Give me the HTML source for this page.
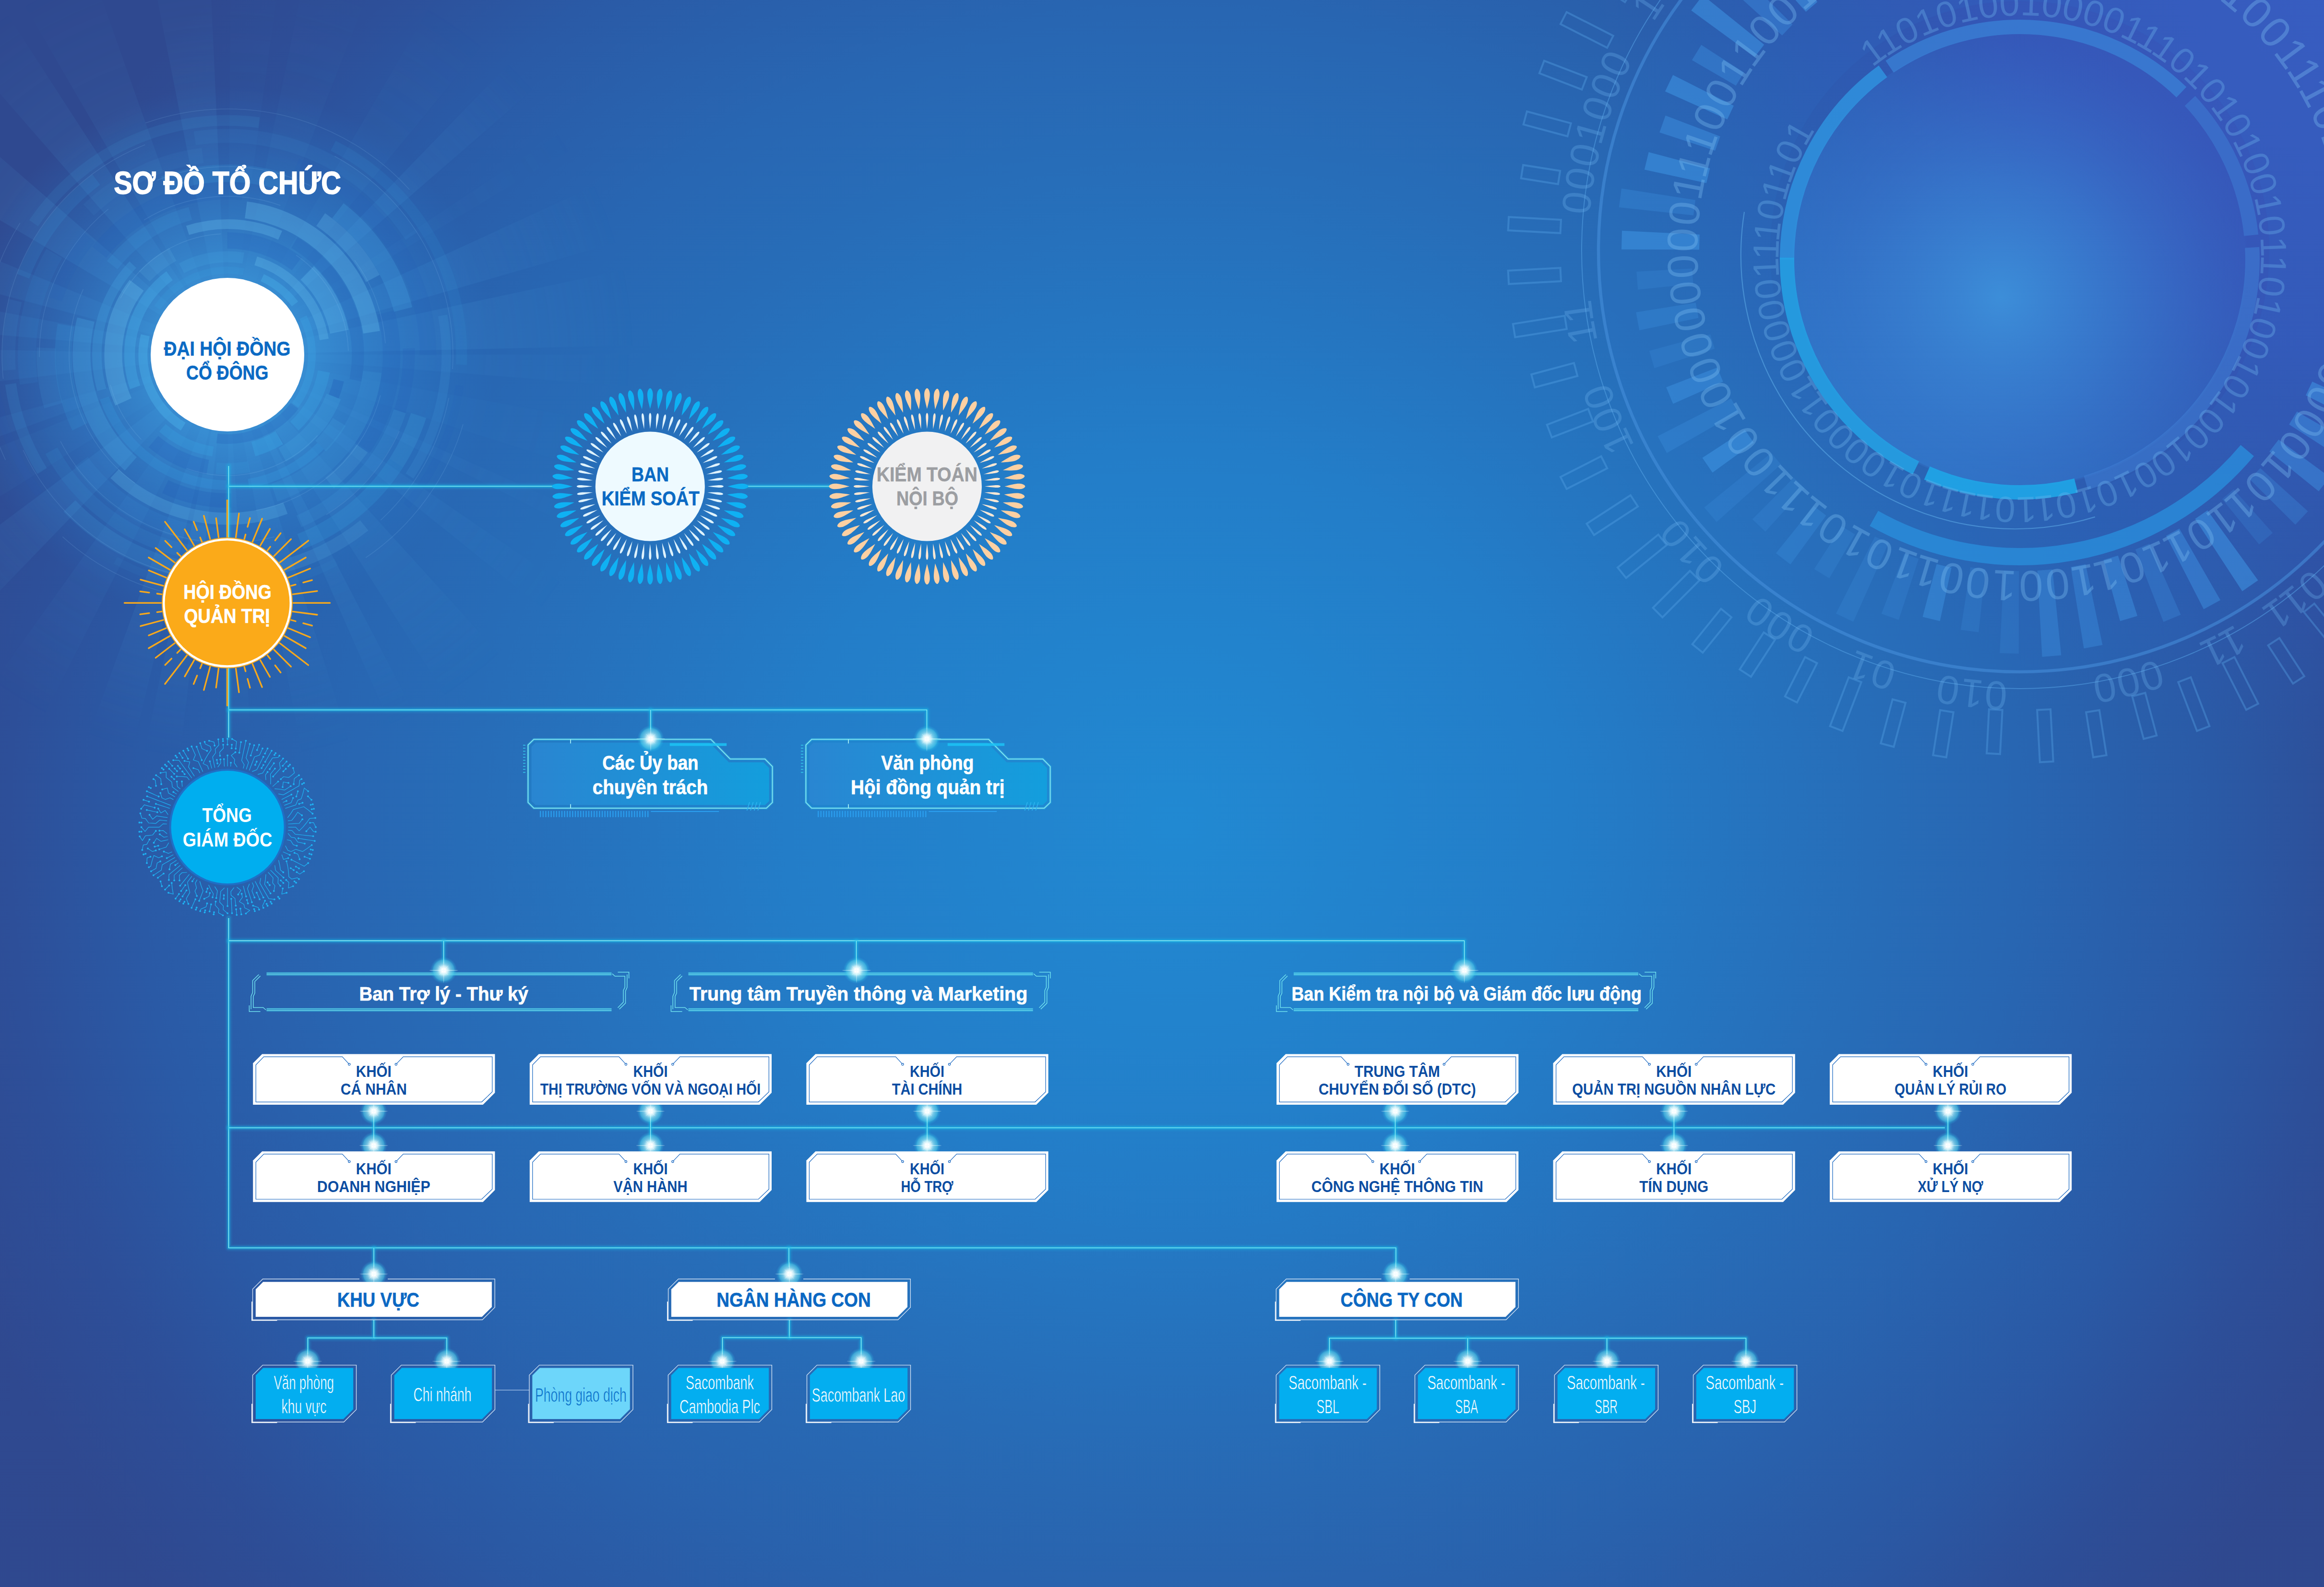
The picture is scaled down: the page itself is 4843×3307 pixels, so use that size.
<!DOCTYPE html>
<html lang="vi"><head><meta charset="utf-8"><title>Sơ đồ tổ chức</title>
<style>html,body{margin:0;padding:0;background:#2b4f9b;overflow:hidden}svg{display:block}</style></head><body>
<svg width="4843" height="3307" viewBox="0 0 4843 3307">
<defs>

<radialGradient id="bg" gradientUnits="userSpaceOnUse" cx="0" cy="0" r="1" gradientTransform="translate(2450 1720) scale(2700 2600)">
 <stop offset="0" stop-color="#2189d2"/><stop offset=".3" stop-color="#237dc8"/><stop offset=".535" stop-color="#276db8"/>
 <stop offset=".65" stop-color="#2866b2"/><stop offset=".8" stop-color="#2a5aa6"/><stop offset=".9" stop-color="#2d4f99"/><stop offset="1" stop-color="#2f4990"/>
</radialGradient>
<linearGradient id="bgb" gradientUnits="userSpaceOnUse" x1="0" y1="2300" x2="0" y2="3307">
 <stop offset="0" stop-color="#2c4694" stop-opacity="0"/><stop offset="1" stop-color="#2e4488" stop-opacity=".14"/>
</linearGradient>
<radialGradient id="trg" gradientUnits="userSpaceOnUse" cx="5000" cy="-100" r="1700">
 <stop offset="0" stop-color="#3a5cc4" stop-opacity=".95"/><stop offset=".5" stop-color="#3659c0" stop-opacity=".78"/>
 <stop offset=".8" stop-color="#3059bc" stop-opacity=".3"/><stop offset="1" stop-color="#2f5cba" stop-opacity="0"/>
</radialGradient>
<radialGradient id="trc" gradientUnits="userSpaceOnUse" cx="4170" cy="620" r="540">
 <stop offset="0" stop-color="#3d90da" stop-opacity=".95"/><stop offset=".45" stop-color="#3a80d2" stop-opacity=".6"/>
 <stop offset="1" stop-color="#3a6cc8" stop-opacity="0"/>
</radialGradient>
<linearGradient id="trd" gradientUnits="userSpaceOnUse" x1="3850" y1="900" x2="4560" y2="180">
 <stop offset="0" stop-color="#2f86d8" stop-opacity=".5"/><stop offset=".55" stop-color="#3278d0" stop-opacity=".25"/><stop offset="1" stop-color="#3a60c4" stop-opacity="0"/>
</linearGradient>
<radialGradient id="tlg" gradientUnits="userSpaceOnUse" cx="474" cy="739" r="560">
 <stop offset="0" stop-color="#4aaae6" stop-opacity=".9"/><stop offset=".3" stop-color="#3a98dc" stop-opacity=".78"/>
 <stop offset=".6" stop-color="#2f86d2" stop-opacity=".5"/><stop offset=".84" stop-color="#2a7ccb" stop-opacity=".22"/>
 <stop offset="1" stop-color="#2a78c8" stop-opacity="0"/>
</radialGradient>
<radialGradient id="rayfade" gradientUnits="userSpaceOnUse" cx="474" cy="739" r="1000">
 <stop offset="0" stop-color="#fff" stop-opacity="1"/><stop offset=".4" stop-color="#fff" stop-opacity=".75"/>
 <stop offset=".85" stop-color="#fff" stop-opacity="0"/>
</radialGradient>
<mask id="raymask" maskUnits="userSpaceOnUse" x="0" y="0" width="1600" height="1800"><rect x="0" y="0" width="1600" height="1800" fill="url(#rayfade)"/></mask>
<radialGradient id="dotg" cx=".5" cy=".5" r=".5">
 <stop offset="0" stop-color="#fff" stop-opacity="1"/><stop offset=".14" stop-color="#fff" stop-opacity="1"/>
 <stop offset=".32" stop-color="#d8f8fc" stop-opacity=".9"/><stop offset=".5" stop-color="#8fe2f3" stop-opacity=".74"/>
 <stop offset=".76" stop-color="#4fd0ec" stop-opacity=".58"/><stop offset=".84" stop-color="#38c6ea" stop-opacity=".3"/>
 <stop offset="1" stop-color="#2bbce8" stop-opacity="0"/>
</radialGradient>
<linearGradient id="spk" x1="0" x2="1" y1="0" y2="0">
 <stop offset="0" stop-color="#fff" stop-opacity="0"/><stop offset=".5" stop-color="#fff" stop-opacity="1"/><stop offset="1" stop-color="#fff" stop-opacity="0"/>
</linearGradient>
<g id="dot">
 <circle r="28" fill="url(#dotg)"/>
 <ellipse rx="30" ry="1.1" fill="#e6fcff" fill-opacity=".45"/>
 <ellipse rx="1.1" ry="26" fill="#e6fcff" fill-opacity=".4"/>
 <ellipse rx="15" ry=".7" fill="#fff" fill-opacity=".35" transform="rotate(45)"/>
 <ellipse rx="15" ry=".7" fill="#fff" fill-opacity=".35" transform="rotate(-45)"/>
</g>
<linearGradient id="boxg" x1="0" x2="1" y1="0" y2="0">
 <stop offset="0" stop-color="#2a86d2"/><stop offset="1" stop-color="#12a0de"/>
</linearGradient>

<path id="tp1" d="M3901.8,140.8 A499,499 0 1 1 4516.2,927.2 A499,499 0 1 1 3901.8,140.8"/>
<path id="tp2" d="M4436.8,-103.8 A666,666 0 1 1 3981.2,1147.8 A666,666 0 1 1 4436.8,-103.8"/>
<path id="tp3" d="M4658.5,1300.6 A899,899 0 1 1 3759.5,-256.6 A899,899 0 1 1 4658.5,1300.6"/>
<path id="pb" d="M0,-161.5 C-3.4,-175 -6.2,-185 -5.8,-193 C-5.4,-200 -2.2,-204.5 0,-204.5 C2.2,-204.5 5.4,-200 5.8,-193 C6.2,-185 3.4,-175 0,-161.5Z" fill="#0fb1f3"/>
<path id="pp" d="M0,-161.5 C-3.4,-175 -6.2,-185 -5.8,-193 C-5.4,-200 -2.2,-204.5 0,-204.5 C2.2,-204.5 5.4,-200 5.8,-193 C6.2,-185 3.4,-175 0,-161.5Z" fill="#fdd0a2"/>
<path id="pw" d="M0,-120 C-1.6,-132 -2.7,-141 -2.5,-146 C-2.3,-151 -1,-153 0,-153 C1,-153 2.3,-151 2.5,-146 C2.7,-141 1.6,-132 0,-120Z"/>
</defs>
<rect width="4843" height="3307" fill="url(#bg)"/>
<rect width="4843" height="3307" fill="url(#bgb)"/>
<rect width="4843" height="3307" fill="url(#trg)"/>
<g mask="url(#raymask)">
<path d="M474,739 L1874,739 L1869.6,849.4 Z" fill="#5cbcf2" fill-opacity="0.094"/>
<path d="M474,739 L1852.3,984.6 L1807.4,1165.5 Z" fill="#5cbcf2" fill-opacity="0.058"/>
<path d="M474,739 L1753.7,1306.9 L1726.4,1364.6 Z" fill="#5cbcf2" fill-opacity="0.081"/>
<path d="M474,739 L1630.2,1528.4 L1564.8,1616.5 Z" fill="#5cbcf2" fill-opacity="0.106"/>
<path d="M474,739 L1414.7,1775.8 L1228.4,1918.3 Z" fill="#5cbcf2" fill-opacity="0.127"/>
<path d="M474,739 L1121.2,1980.4 L1037.9,2020.4 Z" fill="#5cbcf2" fill-opacity="0.154"/>
<path d="M474,739 L894.8,2074.3 L730.2,2115.4 Z" fill="#5cbcf2" fill-opacity="0.131"/>
<path d="M474,739 L559.1,2136.4 L484.8,2139 Z" fill="#5cbcf2" fill-opacity="0.121"/>
<path d="M474,739 L309.6,2129.3 L187.6,2109.4 Z" fill="#5cbcf2" fill-opacity="0.154"/>
<path d="M474,739 L146.3,2100.1 L-6.1,2054.1 Z" fill="#5cbcf2" fill-opacity="0.155"/>
<path d="M474,739 L-160.4,1987 L-339.3,1878.5 Z" fill="#5cbcf2" fill-opacity="0.097"/>
<path d="M474,739 L-497.2,1747.3 L-647.5,1577 Z" fill="#5cbcf2" fill-opacity="0.162"/>
<path d="M474,739 L-714.1,1479.5 L-824.4,1262.6 Z" fill="#5cbcf2" fill-opacity="0.066"/>
<path d="M474,739 L-843.8,1211.6 L-875.8,1110.5 Z" fill="#5cbcf2" fill-opacity="0.102"/>
<path d="M474,739 L-916.6,901 L-925.7,710.1 Z" fill="#5cbcf2" fill-opacity="0.111"/>
<path d="M474,739 L-920.8,618.5 L-901.6,478.6 Z" fill="#5cbcf2" fill-opacity="0.120"/>
<path d="M474,739 L-879.2,380.2 L-821.1,207.4 Z" fill="#5cbcf2" fill-opacity="0.132"/>
<path d="M474,739 L-731.1,26.4 L-582.7,-179.4 Z" fill="#5cbcf2" fill-opacity="0.169"/>
<path d="M474,739 L-446,-316.3 L-286,-436.8 Z" fill="#5cbcf2" fill-opacity="0.153"/>
<path d="M474,739 L-229.2,-471.6 L7.7,-581.1 Z" fill="#5cbcf2" fill-opacity="0.118"/>
<path d="M474,739 L202.8,-634.5 L410.5,-659.6 Z" fill="#5cbcf2" fill-opacity="0.150"/>
<path d="M474,739 L485.8,-661 L665.4,-647.9 Z" fill="#5cbcf2" fill-opacity="0.058"/>
<path d="M474,739 L753,-632.9 L981.5,-565.8 Z" fill="#5cbcf2" fill-opacity="0.061"/>
<path d="M474,739 L1177.7,-471.3 L1364.2,-341.6 Z" fill="#5cbcf2" fill-opacity="0.068"/>
<path d="M474,739 L1447.6,-267.1 L1531.5,-178.4 Z" fill="#5cbcf2" fill-opacity="0.155"/>
<path d="M474,739 L1639.1,-37.3 L1676.5,22.1 Z" fill="#5cbcf2" fill-opacity="0.055"/>
<path d="M474,739 L1746,154.2 L1819.2,351.1 Z" fill="#5cbcf2" fill-opacity="0.156"/>
<path d="M474,739 L1842.9,445.5 L1873.7,708 Z" fill="#5cbcf2" fill-opacity="0.170"/>
</g>
<circle cx="474" cy="739" r="560" fill="url(#tlg)"/>
<path d="M613.9,845.8 A176,176 0 0 1 452.1,913.6" fill="none" stroke="#2460b8" stroke-opacity="0.253" stroke-width="20"/>
<path d="M381.8,888.9 A176,176 0 0 1 302.7,698.6" fill="none" stroke="#4fb6ec" stroke-opacity="0.385" stroke-width="18.9"/>
<path d="M327.7,641.1 A176,176 0 0 1 507.7,566.3" fill="none" stroke="#3aa6e6" stroke-opacity="0.149" stroke-width="14.6"/>
<path d="M546.5,578.6 A176,176 0 0 1 614.7,633.3" fill="none" stroke="#48aee8" stroke-opacity="0.390" stroke-width="16.3"/>
<path d="M631.7,660.9 A176,176 0 0 1 615.2,844.1" fill="none" stroke="#3aa6e6" stroke-opacity="0.301" stroke-width="16"/>
<path d="M581.1,912.6 A204,204 0 0 1 528,935.7" fill="none" stroke="#3aa6e6" stroke-opacity="0.379" stroke-width="31.1"/>
<path d="M443.7,940.7 A204,204 0 0 1 338.5,891.5" fill="none" stroke="#3aa6e6" stroke-opacity="0.262" stroke-width="20.7"/>
<path d="M281.6,806.9 A204,204 0 0 1 353.3,574.6" fill="none" stroke="#48aee8" stroke-opacity="0.381" stroke-width="22.5"/>
<path d="M378.3,558.8 A204,204 0 0 1 507.1,537.7" fill="none" stroke="#4fb6ec" stroke-opacity="0.152" stroke-width="23"/>
<path d="M533,543.7 A204,204 0 0 1 675.5,707.3" fill="none" stroke="#6cc6f2" stroke-opacity="0.278" stroke-width="19"/>
<path d="M675,774 A204,204 0 0 1 613.5,887.8" fill="none" stroke="#3aa6e6" stroke-opacity="0.306" stroke-width="25.2"/>
<path d="M581.8,912.2 A204,204 0 0 1 581.1,912.6" fill="none" stroke="#4fb6ec" stroke-opacity="0.383" stroke-width="32.2"/>
<path d="M695.5,826.1 A238,238 0 0 1 588.2,947.8" fill="none" stroke="#48aee8" stroke-opacity="0.211" stroke-width="32"/>
<path d="M518.9,972.7 A238,238 0 0 1 450.5,975.8" fill="none" stroke="#3aa6e6" stroke-opacity="0.150" stroke-width="23.7"/>
<path d="M432.9,973.4 A238,238 0 0 1 319.6,920.1" fill="none" stroke="#2460b8" stroke-opacity="0.275" stroke-width="31"/>
<path d="M257.3,837.4 A238,238 0 0 1 284.8,594.6" fill="none" stroke="#6cc6f2" stroke-opacity="0.296" stroke-width="37.1"/>
<path d="M300.7,575.9 A238,238 0 0 1 360.1,530" fill="none" stroke="#6cc6f2" stroke-opacity="0.126" stroke-width="30.8"/>
<path d="M473.8,501 A238,238 0 0 1 618.4,549.8" fill="none" stroke="#2460b8" stroke-opacity="0.230" stroke-width="33.9"/>
<path d="M640.4,568.8 A238,238 0 0 1 707.2,691.2" fill="none" stroke="#6cc6f2" stroke-opacity="0.264" stroke-width="39.5"/>
<path d="M705.9,792.5 A238,238 0 0 1 695.5,826.1" fill="none" stroke="#2460b8" stroke-opacity="0.373" stroke-width="22.2"/>
<path d="M668.2,929.4 A272,272 0 0 1 517.9,1007.4" fill="none" stroke="#3aa6e6" stroke-opacity="0.248" stroke-width="18.8"/>
<path d="M471.7,1011 A272,272 0 0 1 217.6,829.7" fill="none" stroke="#3aa6e6" stroke-opacity="0.211" stroke-width="20"/>
<path d="M212,812.1 A272,272 0 0 1 276.9,551.5" fill="none" stroke="#48aee8" stroke-opacity="0.243" stroke-width="19.6"/>
<path d="M390.9,480 A272,272 0 0 1 584,490.2" fill="none" stroke="#6cc6f2" stroke-opacity="0.294" stroke-width="20.1"/>
<path d="M613.6,505.6 A272,272 0 0 1 740.7,792.2" fill="none" stroke="#2460b8" stroke-opacity="0.268" stroke-width="25.3"/>
<path d="M707.1,879.2 A272,272 0 0 1 668.2,929.4" fill="none" stroke="#48aee8" stroke-opacity="0.163" stroke-width="31.5"/>
<path d="M775.9,774.8 A304,304 0 0 1 571.7,1026.9" fill="none" stroke="#48aee8" stroke-opacity="0.125" stroke-width="39.3"/>
<path d="M481.4,1042.9 A304,304 0 0 1 344.4,1014" fill="none" stroke="#2460b8" stroke-opacity="0.305" stroke-width="29.7"/>
<path d="M272.5,966.6 A304,304 0 0 1 178.9,666" fill="none" stroke="#4fb6ec" stroke-opacity="0.237" stroke-width="37.2"/>
<path d="M233.8,552.6 A304,304 0 0 1 396.7,445" fill="none" stroke="#48aee8" stroke-opacity="0.147" stroke-width="27.8"/>
<path d="M512.5,437.5 A304,304 0 0 1 774.4,692.3" fill="none" stroke="#6cc6f2" stroke-opacity="0.293" stroke-width="35.1"/>
<path d="M754.7,934.4 A342,342 0 0 1 686.8,1006.7" fill="none" stroke="#6cc6f2" stroke-opacity="0.125" stroke-width="28.3"/>
<path d="M594.9,1058.9 A342,342 0 0 1 238.7,987.2" fill="none" stroke="#6cc6f2" stroke-opacity="0.231" stroke-width="25.1"/>
<path d="M166.7,889.2 A342,342 0 0 1 137.6,677.6" fill="none" stroke="#3aa6e6" stroke-opacity="0.156" stroke-width="35.2"/>
<path d="M206.9,525.4 A342,342 0 0 1 505.4,398.4" fill="none" stroke="#2460b8" stroke-opacity="0.179" stroke-width="37.1"/>
<path d="M668.3,457.6 A342,342 0 0 1 776.9,580.3" fill="none" stroke="#6cc6f2" stroke-opacity="0.241" stroke-width="32.2"/>
<path d="M804.5,651.2 A342,342 0 0 1 754.7,934.4" fill="none" stroke="#2460b8" stroke-opacity="0.227" stroke-width="36.3"/>
<path d="M833.2,856.8 A378,378 0 0 1 622.9,1086.4" fill="none" stroke="#4fb6ec" stroke-opacity="0.114" stroke-width="26.5"/>
<path d="M452.8,1116.4 A378,378 0 0 1 168.9,962.2" fill="none" stroke="#3aa6e6" stroke-opacity="0.099" stroke-width="34.8"/>
<path d="M111.3,845.3 A378,378 0 0 1 96.3,724.9" fill="none" stroke="#4fb6ec" stroke-opacity="0.106" stroke-width="39.7"/>
<path d="M114.2,623 A378,378 0 0 1 186.2,494" fill="none" stroke="#2460b8" stroke-opacity="0.146" stroke-width="31.6"/>
<path d="M341.9,384.8 A378,378 0 0 1 590.7,379.5" fill="none" stroke="#3aa6e6" stroke-opacity="0.168" stroke-width="36.4"/>
<path d="M704.1,439.1 A378,378 0 0 1 840.1,644.8" fill="none" stroke="#48aee8" stroke-opacity="0.230" stroke-width="39.3"/>
<path d="M851.8,726 A378,378 0 0 1 833.2,856.8" fill="none" stroke="#2460b8" stroke-opacity="0.211" stroke-width="24.6"/>
<path d="M825.7,964.9 A418,418 0 0 1 625.6,1128.5" fill="none" stroke="#3aa6e6" stroke-opacity="0.197" stroke-width="34"/>
<path d="M492.8,1156.6 A418,418 0 0 1 107,939.2" fill="none" stroke="#3aa6e6" stroke-opacity="0.112" stroke-width="28.5"/>
<path d="M60.3,799.1 A418,418 0 0 1 113.1,528" fill="none" stroke="#3aa6e6" stroke-opacity="0.087" stroke-width="38"/>
<path d="M184.6,437.4 A418,418 0 0 1 422.4,324.2" fill="none" stroke="#4fb6ec" stroke-opacity="0.058" stroke-width="32"/>
<path d="M617.2,346.3 A418,418 0 0 1 892,739.7" fill="none" stroke="#2460b8" stroke-opacity="0.157" stroke-width="34.3"/>
<path d="M872.3,865.9 A418,418 0 0 1 825.7,964.9" fill="none" stroke="#48aee8" stroke-opacity="0.199" stroke-width="33.3"/>
<path d="M759.1,1094.9 A456,456 0 0 1 579.1,1182.7" fill="none" stroke="#6cc6f2" stroke-opacity="0.138" stroke-width="27.1"/>
<path d="M428.6,1192.7 A456,456 0 0 1 144.7,1054.4" fill="none" stroke="#48aee8" stroke-opacity="0.168" stroke-width="34.1"/>
<path d="M87.9,981.7 A456,456 0 0 1 22.1,800.1" fill="none" stroke="#48aee8" stroke-opacity="0.129" stroke-width="23.1"/>
<path d="M19.1,771.3 A456,456 0 0 1 32.1,626.3" fill="none" stroke="#48aee8" stroke-opacity="0.096" stroke-width="27.7"/>
<path d="M48.2,575.7 A456,456 0 0 1 200.5,374.2" fill="none" stroke="#3aa6e6" stroke-opacity="0.143" stroke-width="27"/>
<path d="M405.8,288.1 A456,456 0 0 1 857.2,491.9" fill="none" stroke="#48aee8" stroke-opacity="0.083" stroke-width="28.9"/>
<path d="M922.6,657.2 A456,456 0 0 1 853.5,991.8" fill="none" stroke="#4fb6ec" stroke-opacity="0.122" stroke-width="19.5"/>
<path d="M957.8,803.2 A488,488 0 0 1 846.6,1054.1" fill="none" stroke="#2460b8" stroke-opacity="0.086" stroke-width="17"/>
<path d="M700.6,1171.2 A488,488 0 0 1 240.7,1167.6" fill="none" stroke="#4fb6ec" stroke-opacity="0.054" stroke-width="16"/>
<path d="M81.7,1029.3 A488,488 0 0 1 -11,684.7" fill="none" stroke="#2460b8" stroke-opacity="0.097" stroke-width="17.9"/>
<path d="M70.1,465.2 A488,488 0 0 1 540,255.5" fill="none" stroke="#48aee8" stroke-opacity="0.110" stroke-width="22.6"/>
<path d="M694.3,303.6 A488,488 0 0 1 961.5,760" fill="none" stroke="#3aa6e6" stroke-opacity="0.110" stroke-width="23.1"/>
<path d="M661.7,907.2 A252,252 0 0 1 388.8,976.2" fill="none" stroke="#9fdcff" stroke-opacity=".13" stroke-width="1.6"/>
<path d="M294.6,916 A252,252 0 0 1 230,801.9" fill="none" stroke="#9fdcff" stroke-opacity=".13" stroke-width="1.6"/>
<path d="M251.1,621.4 A252,252 0 0 1 460.5,487.4" fill="none" stroke="#9fdcff" stroke-opacity=".13" stroke-width="1.6"/>
<path d="M617.2,531.6 A252,252 0 0 1 725.9,731.3" fill="none" stroke="#9fdcff" stroke-opacity=".13" stroke-width="1.6"/>
<path d="M792.9,823.8 A330,330 0 0 1 533.3,1063.6" fill="none" stroke="#9fdcff" stroke-opacity=".13" stroke-width="1.6"/>
<path d="M281.2,1006.8 A330,330 0 0 1 173.5,602.7" fill="none" stroke="#9fdcff" stroke-opacity=".13" stroke-width="1.6"/>
<path d="M300.3,458.4 A330,330 0 0 1 584.2,427.9" fill="none" stroke="#9fdcff" stroke-opacity=".13" stroke-width="1.6"/>
<path d="M739.1,542.5 A330,330 0 0 1 803.1,715.3" fill="none" stroke="#9fdcff" stroke-opacity=".13" stroke-width="1.6"/>
<path d="M832,898.7 A392,392 0 0 1 679.9,1072.5" fill="none" stroke="#9fdcff" stroke-opacity=".13" stroke-width="1.6"/>
<path d="M572.1,1118.5 A392,392 0 0 1 125.9,919.3" fill="none" stroke="#9fdcff" stroke-opacity=".13" stroke-width="1.6"/>
<path d="M82,744 A392,392 0 0 1 225.9,435.5" fill="none" stroke="#9fdcff" stroke-opacity=".13" stroke-width="1.6"/>
<path d="M328.1,375.2 A392,392 0 0 1 660.5,394.2" fill="none" stroke="#9fdcff" stroke-opacity=".13" stroke-width="1.6"/>
<path d="M935.2,829.5 A470,470 0 0 1 793.2,1084" fill="none" stroke="#9fdcff" stroke-opacity=".13" stroke-width="1.6"/>
<path d="M525.3,1206.2 A470,470 0 0 1 48.2,938" fill="none" stroke="#9fdcff" stroke-opacity=".13" stroke-width="1.6"/>
<path d="M6.7,789.4 A470,470 0 0 1 302.4,301.5" fill="none" stroke="#9fdcff" stroke-opacity=".13" stroke-width="1.6"/>
<path d="M697.3,325.5 A470,470 0 0 1 943,769" fill="none" stroke="#9fdcff" stroke-opacity=".13" stroke-width="1.6"/>
<path d="M965,884.2 A512,512 0 0 1 762.2,1162.2" fill="none" stroke="#9fdcff" stroke-opacity=".13" stroke-width="1.6"/>
<path d="M395.5,1245 A512,512 0 0 1 130.2,1118.4" fill="none" stroke="#9fdcff" stroke-opacity=".13" stroke-width="1.6"/>
<path d="M11.4,958.3 A512,512 0 0 1 41.8,464.6" fill="none" stroke="#9fdcff" stroke-opacity=".13" stroke-width="1.6"/>
<path d="M303.2,256.3 A512,512 0 0 1 853.3,395" fill="none" stroke="#9fdcff" stroke-opacity=".13" stroke-width="1.6"/>
<circle cx="4209" cy="541" r="472" fill="url(#trd)"/>
<circle cx="4209" cy="541" r="475" fill="url(#trc)"/>
<circle cx="4209" cy="522" r="700" fill="none" stroke="#2f80d6" stroke-opacity=".1" stroke-width="360"/>
<path d="M3724,541 A485,485 0 0 1 3923.9,148.6" fill="none" stroke="#2f92de" stroke-opacity=".85" stroke-width="30"/>
<path d="M3992.6,975 A485,485 0 0 1 3724,536.8" fill="none" stroke="#24a0e4" stroke-opacity=".88" stroke-width="30"/>
<path d="M4326.3,1011.6 A485,485 0 0 1 4015.6,985.8" fill="none" stroke="#1fa6e8" stroke-opacity=".9" stroke-width="30"/>
<path d="M4693.3,515.6 A485,485 0 0 1 4346.7,1006" fill="none" stroke="#3f7fd6" stroke-opacity=".55" stroke-width="30"/>
<path d="M4563.7,210.2 A485,485 0 0 1 4691.3,490.3" fill="none" stroke="#3d7ad2" stroke-opacity=".6" stroke-width="30"/>
<path d="M3937.8,138.9 A485,485 0 0 1 4545.9,192.1" fill="none" stroke="#3a84d8" stroke-opacity=".7" stroke-width="30"/>
<text font-size="76" font-family="'Liberation Sans',sans-serif" font-weight="400" fill="#6fb6ee" fill-opacity=".34" letter-spacing="0"><textPath href="#tp1">110101001000011101010100101101001010010010101101111010000110000011101101</textPath></text>
<path d="M4365.9,1077.1 A571,571 0 0 1 3635,441.7" fill="none" stroke="#63b4ee" stroke-opacity=".5" stroke-width="2.2"/>
<path d="M4683.2,938.9 A619,619 0 0 1 3905.1,1080.3" fill="none" stroke="#2a90de" stroke-opacity=".75" stroke-width="36"/>
<polygon points="4885,523.8 5057,524.2 5056,564.2 4884.2,555.6" fill="#3f97e6" fill-opacity="0.36"/>
<polygon points="4873.2,593.6 5014.3,608.8 5009.4,646.6 4869,624.8" fill="#3f97e6" fill-opacity="0.28"/>
<polygon points="4862,662.6 5020.4,696.7 5011.3,734.7 4854.7,693.2" fill="#3f97e6" fill-opacity="0.52"/>
<polygon points="4851.4,732.6 5014.8,786.2 5001.5,823.8 4840.7,762.6" fill="#3f97e6" fill-opacity="0.2"/>
<polygon points="4818.5,795.3 4982.8,868.9 4965.6,905 4805,823.7" fill="#3f97e6" fill-opacity="0.52"/>
<polygon points="4786.6,857.5 4900.8,923.8 4881.1,956 4770.2,884.4" fill="#3f97e6" fill-opacity="0.44"/>
<polygon points="4748.4,916.1 4855,993.9 4832,1023.8 4729.2,941" fill="#3f97e6" fill-opacity="0.44"/>
<polygon points="4710.2,975.6 4809.5,1065.6 4783.3,1093.3 4688.3,998.8" fill="#3f97e6" fill-opacity="0.28"/>
<polygon points="4654.7,1019.6 4736.1,1110.5 4707.8,1134.6 4630.7,1040" fill="#3f97e6" fill-opacity="0.2"/>
<polygon points="4600.2,1063.4 4705.6,1209.3 4672.7,1232 4574.3,1081.3" fill="#3f97e6" fill-opacity="0.52"/>
<polygon points="4541.5,1101.4 4627.1,1250.6 4592.3,1269.4 4513.8,1116.4" fill="#3f97e6" fill-opacity="0.44"/>
<polygon points="4479.1,1133 4544.6,1281.1 4508.5,1296.1 4450,1145" fill="#3f97e6" fill-opacity="0.28"/>
<polygon points="4413.8,1157.8 4454.2,1283.5 4418.1,1294.2 4383.6,1166.8" fill="#3f97e6" fill-opacity="0.44"/>
<polygon points="4346.2,1175.8 4381.5,1344.1 4342.6,1351.3 4315.2,1181.5" fill="#3f97e6" fill-opacity="0.36"/>
<polygon points="4277.1,1186.5 4295.4,1365.6 4255.6,1368.7 4245.7,1189" fill="#3f97e6" fill-opacity="0.36"/>
<polygon points="4207.3,1190 4206.8,1362 4167.2,1361 4175.8,1189.2" fill="#3f97e6" fill-opacity="0.2"/>
<polygon points="4137.4,1186.2 4123.3,1317.4 4085.9,1312.5 4106.2,1182" fill="#3f97e6" fill-opacity="0.2"/>
<polygon points="4066.7,1182.9 4042.7,1294.3 4006.5,1285.6 4035.7,1175.4" fill="#3f97e6" fill-opacity="0.44"/>
<polygon points="3998.4,1164.4 3956.7,1291.7 3920.7,1279 3968.4,1153.7" fill="#3f97e6" fill-opacity="0.2"/>
<polygon points="3935.7,1131.5 3862.1,1295.8 3826,1278.6 3907.3,1118" fill="#3f97e6" fill-opacity="0.2"/>
<polygon points="3865.5,1113.5 3812.2,1205.1 3780.5,1185.7 3838,1096.6" fill="#3f97e6" fill-opacity="0.2"/>
<polygon points="3805.5,1074.3 3731.2,1176.1 3700.9,1152.8 3779.9,1054.7" fill="#3f97e6" fill-opacity="0.28"/>
<polygon points="3760.7,1017.2 3678.9,1107.7 3651.9,1082.1 3737.9,995.6" fill="#3f97e6" fill-opacity="0.2"/>
<polygon points="3711.4,967.7 3577.3,1087.8 3551.4,1057.4 3691,943.7" fill="#3f97e6" fill-opacity="0.2"/>
<polygon points="3654.6,922.6 3568.7,984.7 3547.6,954 3636.3,896" fill="#3f97e6" fill-opacity="0.52"/>
<polygon points="3622.7,858.5 3473.5,944.1 3454.4,909 3607.5,830.5" fill="#3f97e6" fill-opacity="0.28"/>
<polygon points="3590.7,795.3 3486.5,841.4 3472.2,807 3578.5,765.9" fill="#3f97e6" fill-opacity="0.44"/>
<polygon points="3573.2,726.8 3447.5,767.2 3436.8,731.1 3564.2,696.6" fill="#3f97e6" fill-opacity="0.2"/>
<polygon points="3539.6,662.5 3416.3,688.3 3409.3,650.8 3533.7,630.8" fill="#3f97e6" fill-opacity="0.28"/>
<polygon points="3528.6,591.7 3413.2,603.5 3410.2,566 3526,559.6" fill="#3f97e6" fill-opacity="0.2"/>
<polygon points="3541,520.3 3379,519.8 3380,480.7 3541.8,488.8" fill="#3f97e6" fill-opacity="0.52"/>
<polygon points="3528.9,448.7 3373.8,432 3379,392.8 3533.1,416.8" fill="#3f97e6" fill-opacity="0.28"/>
<polygon points="3556,381.4 3426.9,353.6 3435.7,317 3563.3,350.8" fill="#3f97e6" fill-opacity="0.52"/>
<polygon points="3574.2,313.9 3458.3,275.9 3470.7,240.8 3584.7,284.2" fill="#3f97e6" fill-opacity="0.44"/>
<polygon points="3599.5,248.7 3469.9,190.6 3486.3,156.2 3613,220.3" fill="#3f97e6" fill-opacity="0.52"/>
<polygon points="3617.5,178.5 3525.9,125.2 3545.3,93.5 3634.4,151" fill="#3f97e6" fill-opacity="0.36"/>
<polygon points="3656.7,118.5 3524.3,21.8 3548.6,-9.9 3676.3,92.9" fill="#3f97e6" fill-opacity="0.52"/>
<polygon points="3713.8,73.7 3586.2,-41.7 3613.5,-70.4 3735.4,50.9" fill="#3f97e6" fill-opacity="0.36"/>
<polygon points="3763.3,24.4 3648.6,-103.7 3678.7,-129.4 3787.3,4" fill="#3f97e6" fill-opacity="0.52"/>
<polygon points="3817.8,-19.4 3712.4,-165.3 3745.3,-188 3843.7,-37.3" fill="#3f97e6" fill-opacity="0.28"/>
<polygon points="3872.5,-64.3 3805.8,-180.5 3839.4,-198.8 3900.5,-79.5" fill="#3f97e6" fill-opacity="0.52"/>
<polygon points="3938.9,-89 3866.1,-253.6 3903,-268.9 3968,-101" fill="#3f97e6" fill-opacity="0.52"/>
<polygon points="4004.2,-113.8 3966.8,-230 4002.5,-240.5 4034.4,-122.8" fill="#3f97e6" fill-opacity="0.44"/>
<polygon points="4071.8,-131.8 4042.7,-270.7 4080.2,-277.7 4102.8,-137.5" fill="#3f97e6" fill-opacity="0.28"/>
<polygon points="4140.1,-150.5 4124.4,-303.7 4163.4,-306.7 4171.9,-153" fill="#3f97e6" fill-opacity="0.36"/>
<polygon points="4210.7,-146 4211.2,-308 4250.3,-307 4242.2,-145.2" fill="#3f97e6" fill-opacity="0.36"/>
<polygon points="4280.6,-142.2 4299.8,-321.1 4339.5,-315.9 4311.8,-138" fill="#3f97e6" fill-opacity="0.2"/>
<polygon points="4349.6,-131 4387.5,-307 4426.3,-297.7 4380.2,-123.7" fill="#3f97e6" fill-opacity="0.52"/>
<polygon points="4870.6,383.2 5038.9,347.9 5046.2,387.2 4876.4,414.5" fill="#3f97e6" fill-opacity="0.36"/>
<polygon points="4873.5,453.9 5052.6,435.6 5055.7,475.4 4876,485.3" fill="#3f97e6" fill-opacity="0.2"/>
<text font-size="90" font-family="'Liberation Sans',sans-serif" font-weight="400" fill="#79bdf2" fill-opacity=".36" letter-spacing="3"><textPath href="#tp2">0100100111010100010000001011011011001001101011100100000000111001100110100000110</textPath></text>
<circle cx="4209" cy="522" r="878" fill="none" stroke="#4a94e0" stroke-opacity=".5" stroke-width="6.5"/>
<circle cx="4209" cy="522" r="913" fill="none" stroke="#5aa8ea" stroke-opacity=".5" stroke-width="2"/>
<text font-size="84" font-family="'Liberation Sans',sans-serif" font-weight="400" fill="#6db4ee" fill-opacity=".3" letter-spacing="2"><textPath href="#tp3">11 000  010 01 000 010  100 11  0001000 100 000 11 100 11 100 10 10  010  11 11 100 0001000 011 100  11 010  100 110 11 100 000 110  100  0001000  </textPath></text>
<polygon points="5098.4,878.4 5200.1,917.4 5210.1,891.3 5108.4,852.2" fill="none" stroke="#5aa6ea" stroke-opacity=".36" stroke-width="4"/>
<polygon points="5056.2,969.4 5153.3,1018.9 5166.1,993.9 5068.9,944.4" fill="none" stroke="#5aa6ea" stroke-opacity=".36" stroke-width="4"/>
<polygon points="5004.8,1055.5 5096.2,1114.9 5111.5,1091.4 5020.1,1032" fill="none" stroke="#5aa6ea" stroke-opacity=".36" stroke-width="4"/>
<polygon points="4944.7,1135.8 5029.4,1204.4 5047,1182.6 4962.3,1114" fill="none" stroke="#5aa6ea" stroke-opacity=".36" stroke-width="4"/>
<polygon points="4876.5,1209.3 4953.6,1286.4 4973.4,1266.6 4896.3,1189.5" fill="none" stroke="#5aa6ea" stroke-opacity=".36" stroke-width="4"/>
<polygon points="4801,1275.3 4869.6,1360 4891.4,1342.4 4822.8,1257.7" fill="none" stroke="#5aa6ea" stroke-opacity=".36" stroke-width="4"/>
<polygon points="4726.6,1344.8 4778.4,1424.5 4801.9,1409.2 4750.1,1329.6" fill="none" stroke="#5aa6ea" stroke-opacity=".36" stroke-width="4"/>
<polygon points="4631.4,1381.9 4680.9,1479.1 4705.9,1466.3 4656.4,1369.2" fill="none" stroke="#5aa6ea" stroke-opacity=".36" stroke-width="4"/>
<polygon points="4539.2,1421.4 4578.3,1523.1 4604.4,1513.1 4565.4,1411.4" fill="none" stroke="#5aa6ea" stroke-opacity=".36" stroke-width="4"/>
<polygon points="4443.4,1451 4467.2,1539.8 4494.3,1532.6 4470.5,1443.7" fill="none" stroke="#5aa6ea" stroke-opacity=".36" stroke-width="4"/>
<polygon points="4347.2,1484.2 4362.1,1578.1 4389.7,1573.7 4374.9,1479.8" fill="none" stroke="#5aa6ea" stroke-opacity=".36" stroke-width="4"/>
<polygon points="4245.2,1479.4 4250.9,1588.3 4278.8,1586.8 4273.1,1478" fill="none" stroke="#5aa6ea" stroke-opacity=".36" stroke-width="4"/>
<polygon points="4144.9,1478 4140.1,1569.8 4168,1571.3 4172.8,1479.4" fill="none" stroke="#5aa6ea" stroke-opacity=".36" stroke-width="4"/>
<polygon points="4043.1,1479.8 4028.3,1573.7 4055.9,1578.1 4070.8,1484.2" fill="none" stroke="#5aa6ea" stroke-opacity=".36" stroke-width="4"/>
<polygon points="3943.9,1457.3 3919.3,1549 3946.4,1556.3 3971,1464.5" fill="none" stroke="#5aa6ea" stroke-opacity=".36" stroke-width="4"/>
<polygon points="3852.6,1411.4 3813.6,1513.1 3839.7,1523.1 3878.8,1421.4" fill="none" stroke="#5aa6ea" stroke-opacity=".36" stroke-width="4"/>
<polygon points="3761.6,1369.2 3719.8,1451.2 3744.8,1463.9 3786.6,1381.9" fill="none" stroke="#5aa6ea" stroke-opacity=".36" stroke-width="4"/>
<polygon points="3675.5,1317.8 3625.4,1395 3648.9,1410.2 3699,1333.1" fill="none" stroke="#5aa6ea" stroke-opacity=".36" stroke-width="4"/>
<polygon points="3586.4,1268.6 3526.6,1342.4 3548.4,1360 3608.2,1286.2" fill="none" stroke="#5aa6ea" stroke-opacity=".36" stroke-width="4"/>
<polygon points="3521.7,1189.5 3444.6,1266.6 3464.4,1286.4 3541.5,1209.3" fill="none" stroke="#5aa6ea" stroke-opacity=".36" stroke-width="4"/>
<polygon points="3455.7,1114 3371,1182.6 3388.6,1204.4 3473.3,1135.8" fill="none" stroke="#5aa6ea" stroke-opacity=".36" stroke-width="4"/>
<polygon points="3397.9,1032 3306.5,1091.4 3321.8,1114.9 3413.2,1055.5" fill="none" stroke="#5aa6ea" stroke-opacity=".36" stroke-width="4"/>
<polygon points="3336.6,950.8 3251.9,993.9 3264.7,1018.9 3349.3,975.8" fill="none" stroke="#5aa6ea" stroke-opacity=".36" stroke-width="4"/>
<polygon points="3309.6,852.2 3223.7,885.2 3233.8,911.4 3319.6,878.4" fill="none" stroke="#5aa6ea" stroke-opacity=".36" stroke-width="4"/>
<polygon points="3280,756.4 3191.2,780.2 3198.4,807.3 3287.3,783.5" fill="none" stroke="#5aa6ea" stroke-opacity=".36" stroke-width="4"/>
<polygon points="3260.6,658 3152.9,675.1 3157.3,702.7 3265,685.7" fill="none" stroke="#5aa6ea" stroke-opacity=".36" stroke-width="4"/>
<polygon points="3251.6,558.2 3142.7,563.9 3144.2,591.8 3253,586.1" fill="none" stroke="#5aa6ea" stroke-opacity=".36" stroke-width="4"/>
<polygon points="3253,457.9 3144.2,452.2 3142.7,480.1 3251.6,485.8" fill="none" stroke="#5aa6ea" stroke-opacity=".36" stroke-width="4"/>
<polygon points="3251.2,356.1 3174.1,343.9 3169.7,371.6 3246.8,383.8" fill="none" stroke="#5aa6ea" stroke-opacity=".36" stroke-width="4"/>
<polygon points="3273.7,256.9 3182,232.3 3174.7,259.4 3266.5,284" fill="none" stroke="#5aa6ea" stroke-opacity=".36" stroke-width="4"/>
<polygon points="3306.6,160.6 3217.9,126.6 3207.9,152.7 3296.5,186.7" fill="none" stroke="#5aa6ea" stroke-opacity=".36" stroke-width="4"/>
<polygon points="3361.8,74.6 3264.7,25.1 3251.9,50.1 3349.1,99.6" fill="none" stroke="#5aa6ea" stroke-opacity=".36" stroke-width="4"/>
<polygon points="3401.4,-19.1 3336,-61.6 3320.8,-38.1 3386.2,4.4" fill="none" stroke="#5aa6ea" stroke-opacity=".36" stroke-width="4"/>
<polygon points="3473.3,-91.8 3388.6,-160.4 3371,-138.6 3455.7,-70" fill="none" stroke="#5aa6ea" stroke-opacity=".36" stroke-width="4"/>
<polygon points="3531.6,-175.2 3464.4,-242.4 3444.6,-222.6 3511.8,-155.4" fill="none" stroke="#5aa6ea" stroke-opacity=".36" stroke-width="4"/>
<polygon points="3617,-231.3 3548.4,-316 3526.6,-298.4 3595.2,-213.7" fill="none" stroke="#5aa6ea" stroke-opacity=".36" stroke-width="4"/>
<polygon points="3699,-289.1 3639.6,-380.5 3616.1,-365.2 3675.5,-273.8" fill="none" stroke="#5aa6ea" stroke-opacity=".36" stroke-width="4"/>
<polygon points="3786.6,-337.9 3744.8,-419.9 3719.8,-407.2 3761.6,-325.2" fill="none" stroke="#5aa6ea" stroke-opacity=".36" stroke-width="4"/>
<polygon points="3878.8,-377.4 3839.7,-479.1 3813.6,-469.1 3852.6,-367.4" fill="none" stroke="#5aa6ea" stroke-opacity=".36" stroke-width="4"/>
<polygon points="3974.6,-407 3946.4,-512.3 3919.3,-505 3947.5,-399.7" fill="none" stroke="#5aa6ea" stroke-opacity=".36" stroke-width="4"/>
<polygon points="4073,-426.4 4055.9,-534.1 4028.3,-529.7 4045.3,-422" fill="none" stroke="#5aa6ea" stroke-opacity=".36" stroke-width="4"/>
<polygon points="4172.8,-435.4 4167.1,-544.3 4139.2,-542.8 4144.9,-434" fill="none" stroke="#5aa6ea" stroke-opacity=".36" stroke-width="4"/>
<polygon points="4273.1,-434 4278.8,-542.8 4250.9,-544.3 4245.2,-435.4" fill="none" stroke="#5aa6ea" stroke-opacity=".36" stroke-width="4"/>
<polygon points="4372.7,-422 4389.7,-529.7 4362.1,-534.1 4345,-426.4" fill="none" stroke="#5aa6ea" stroke-opacity=".36" stroke-width="4"/>
<polygon points="5157.4,386 5248.3,371.6 5243.9,343.9 5153,358.3" fill="none" stroke="#5aa6ea" stroke-opacity=".36" stroke-width="4"/>
<polygon points="5166.4,485.8 5258.3,481 5256.8,453.1 5165,457.9" fill="none" stroke="#5aa6ea" stroke-opacity=".36" stroke-width="4"/>
<path d="M476.5,971 L476.5,1125" fill="none" stroke="#17c0ea" stroke-opacity=".07" stroke-width="16" stroke-linecap="round" stroke-linejoin="round"/>
<path d="M476.5,971 L476.5,1125" fill="none" stroke="#17c0ea" stroke-opacity=".2" stroke-width="10" stroke-linecap="round" stroke-linejoin="round"/>
<path d="M476.5,971 L476.5,1125" fill="none" stroke="#17c0ea" stroke-opacity=".36" stroke-width="5.5" stroke-linejoin="round"/>
<path d="M476.5,971 L476.5,1125" fill="none" stroke="#17c0ea" stroke-opacity=".62" stroke-width="2.8" stroke-linejoin="round"/>
<path d="M476.5,971 L476.5,1125" fill="none" stroke="#aeeef2" stroke-width="1.1" stroke-linejoin="round"/>
<path d="M476.5,1013.3 L1154,1013.3" fill="none" stroke="#17c0ea" stroke-opacity=".07" stroke-width="16" stroke-linecap="round" stroke-linejoin="round"/>
<path d="M476.5,1013.3 L1154,1013.3" fill="none" stroke="#17c0ea" stroke-opacity=".2" stroke-width="10" stroke-linecap="round" stroke-linejoin="round"/>
<path d="M476.5,1013.3 L1154,1013.3" fill="none" stroke="#17c0ea" stroke-opacity=".36" stroke-width="5.5" stroke-linejoin="round"/>
<path d="M476.5,1013.3 L1154,1013.3" fill="none" stroke="#17c0ea" stroke-opacity=".62" stroke-width="2.8" stroke-linejoin="round"/>
<path d="M476.5,1013.3 L1154,1013.3" fill="none" stroke="#aeeef2" stroke-width="1.1" stroke-linejoin="round"/>
<path d="M1556,1013.3 L1730,1013.3" fill="none" stroke="#17c0ea" stroke-opacity=".07" stroke-width="16" stroke-linecap="round" stroke-linejoin="round"/>
<path d="M1556,1013.3 L1730,1013.3" fill="none" stroke="#17c0ea" stroke-opacity=".2" stroke-width="10" stroke-linecap="round" stroke-linejoin="round"/>
<path d="M1556,1013.3 L1730,1013.3" fill="none" stroke="#17c0ea" stroke-opacity=".36" stroke-width="5.5" stroke-linejoin="round"/>
<path d="M1556,1013.3 L1730,1013.3" fill="none" stroke="#17c0ea" stroke-opacity=".62" stroke-width="2.8" stroke-linejoin="round"/>
<path d="M1556,1013.3 L1730,1013.3" fill="none" stroke="#aeeef2" stroke-width="1.1" stroke-linejoin="round"/>
<path d="M476.5,1385 L476.5,1537" fill="none" stroke="#17c0ea" stroke-opacity=".07" stroke-width="16" stroke-linecap="round" stroke-linejoin="round"/>
<path d="M476.5,1385 L476.5,1537" fill="none" stroke="#17c0ea" stroke-opacity=".2" stroke-width="10" stroke-linecap="round" stroke-linejoin="round"/>
<path d="M476.5,1385 L476.5,1537" fill="none" stroke="#17c0ea" stroke-opacity=".36" stroke-width="5.5" stroke-linejoin="round"/>
<path d="M476.5,1385 L476.5,1537" fill="none" stroke="#17c0ea" stroke-opacity=".62" stroke-width="2.8" stroke-linejoin="round"/>
<path d="M476.5,1385 L476.5,1537" fill="none" stroke="#aeeef2" stroke-width="1.1" stroke-linejoin="round"/>
<path d="M476.5,1479.3 L1931.5,1479.3 L1931.5,1520" fill="none" stroke="#17c0ea" stroke-opacity=".07" stroke-width="16" stroke-linecap="round" stroke-linejoin="round"/>
<path d="M476.5,1479.3 L1931.5,1479.3 L1931.5,1520" fill="none" stroke="#17c0ea" stroke-opacity=".2" stroke-width="10" stroke-linecap="round" stroke-linejoin="round"/>
<path d="M476.5,1479.3 L1931.5,1479.3 L1931.5,1520" fill="none" stroke="#17c0ea" stroke-opacity=".36" stroke-width="5.5" stroke-linejoin="round"/>
<path d="M476.5,1479.3 L1931.5,1479.3 L1931.5,1520" fill="none" stroke="#17c0ea" stroke-opacity=".62" stroke-width="2.8" stroke-linejoin="round"/>
<path d="M476.5,1479.3 L1931.5,1479.3 L1931.5,1520" fill="none" stroke="#aeeef2" stroke-width="1.1" stroke-linejoin="round"/>
<path d="M1355.8,1479.3 L1355.8,1520" fill="none" stroke="#17c0ea" stroke-opacity=".07" stroke-width="16" stroke-linecap="round" stroke-linejoin="round"/>
<path d="M1355.8,1479.3 L1355.8,1520" fill="none" stroke="#17c0ea" stroke-opacity=".2" stroke-width="10" stroke-linecap="round" stroke-linejoin="round"/>
<path d="M1355.8,1479.3 L1355.8,1520" fill="none" stroke="#17c0ea" stroke-opacity=".36" stroke-width="5.5" stroke-linejoin="round"/>
<path d="M1355.8,1479.3 L1355.8,1520" fill="none" stroke="#17c0ea" stroke-opacity=".62" stroke-width="2.8" stroke-linejoin="round"/>
<path d="M1355.8,1479.3 L1355.8,1520" fill="none" stroke="#aeeef2" stroke-width="1.1" stroke-linejoin="round"/>
<path d="M476.5,1913 L476.5,2600.2 L2909,2600.2 L2909,2640" fill="none" stroke="#17c0ea" stroke-opacity=".07" stroke-width="16" stroke-linecap="round" stroke-linejoin="round"/>
<path d="M476.5,1913 L476.5,2600.2 L2909,2600.2 L2909,2640" fill="none" stroke="#17c0ea" stroke-opacity=".2" stroke-width="10" stroke-linecap="round" stroke-linejoin="round"/>
<path d="M476.5,1913 L476.5,2600.2 L2909,2600.2 L2909,2640" fill="none" stroke="#17c0ea" stroke-opacity=".36" stroke-width="5.5" stroke-linejoin="round"/>
<path d="M476.5,1913 L476.5,2600.2 L2909,2600.2 L2909,2640" fill="none" stroke="#17c0ea" stroke-opacity=".62" stroke-width="2.8" stroke-linejoin="round"/>
<path d="M476.5,1913 L476.5,2600.2 L2909,2600.2 L2909,2640" fill="none" stroke="#aeeef2" stroke-width="1.1" stroke-linejoin="round"/>
<path d="M476.5,1960.4 L3051.6,1960.4 L3051.6,2008" fill="none" stroke="#17c0ea" stroke-opacity=".07" stroke-width="16" stroke-linecap="round" stroke-linejoin="round"/>
<path d="M476.5,1960.4 L3051.6,1960.4 L3051.6,2008" fill="none" stroke="#17c0ea" stroke-opacity=".2" stroke-width="10" stroke-linecap="round" stroke-linejoin="round"/>
<path d="M476.5,1960.4 L3051.6,1960.4 L3051.6,2008" fill="none" stroke="#17c0ea" stroke-opacity=".36" stroke-width="5.5" stroke-linejoin="round"/>
<path d="M476.5,1960.4 L3051.6,1960.4 L3051.6,2008" fill="none" stroke="#17c0ea" stroke-opacity=".62" stroke-width="2.8" stroke-linejoin="round"/>
<path d="M476.5,1960.4 L3051.6,1960.4 L3051.6,2008" fill="none" stroke="#aeeef2" stroke-width="1.1" stroke-linejoin="round"/>
<path d="M924.6,1960.4 L924.6,2008" fill="none" stroke="#17c0ea" stroke-opacity=".07" stroke-width="16" stroke-linecap="round" stroke-linejoin="round"/>
<path d="M924.6,1960.4 L924.6,2008" fill="none" stroke="#17c0ea" stroke-opacity=".2" stroke-width="10" stroke-linecap="round" stroke-linejoin="round"/>
<path d="M924.6,1960.4 L924.6,2008" fill="none" stroke="#17c0ea" stroke-opacity=".36" stroke-width="5.5" stroke-linejoin="round"/>
<path d="M924.6,1960.4 L924.6,2008" fill="none" stroke="#17c0ea" stroke-opacity=".62" stroke-width="2.8" stroke-linejoin="round"/>
<path d="M924.6,1960.4 L924.6,2008" fill="none" stroke="#aeeef2" stroke-width="1.1" stroke-linejoin="round"/>
<path d="M1784.5,1960.4 L1784.5,2008" fill="none" stroke="#17c0ea" stroke-opacity=".07" stroke-width="16" stroke-linecap="round" stroke-linejoin="round"/>
<path d="M1784.5,1960.4 L1784.5,2008" fill="none" stroke="#17c0ea" stroke-opacity=".2" stroke-width="10" stroke-linecap="round" stroke-linejoin="round"/>
<path d="M1784.5,1960.4 L1784.5,2008" fill="none" stroke="#17c0ea" stroke-opacity=".36" stroke-width="5.5" stroke-linejoin="round"/>
<path d="M1784.5,1960.4 L1784.5,2008" fill="none" stroke="#17c0ea" stroke-opacity=".62" stroke-width="2.8" stroke-linejoin="round"/>
<path d="M1784.5,1960.4 L1784.5,2008" fill="none" stroke="#aeeef2" stroke-width="1.1" stroke-linejoin="round"/>
<path d="M476.5,2350 L4053,2350" fill="none" stroke="#17c0ea" stroke-opacity=".07" stroke-width="16" stroke-linecap="round" stroke-linejoin="round"/>
<path d="M476.5,2350 L4053,2350" fill="none" stroke="#17c0ea" stroke-opacity=".2" stroke-width="10" stroke-linecap="round" stroke-linejoin="round"/>
<path d="M476.5,2350 L4053,2350" fill="none" stroke="#17c0ea" stroke-opacity=".36" stroke-width="5.5" stroke-linejoin="round"/>
<path d="M476.5,2350 L4053,2350" fill="none" stroke="#17c0ea" stroke-opacity=".62" stroke-width="2.8" stroke-linejoin="round"/>
<path d="M476.5,2350 L4053,2350" fill="none" stroke="#aeeef2" stroke-width="1.1" stroke-linejoin="round"/>
<path d="M778.8,2310 L778.8,2392" fill="none" stroke="#17c0ea" stroke-opacity=".07" stroke-width="16" stroke-linecap="round" stroke-linejoin="round"/>
<path d="M778.8,2310 L778.8,2392" fill="none" stroke="#17c0ea" stroke-opacity=".2" stroke-width="10" stroke-linecap="round" stroke-linejoin="round"/>
<path d="M778.8,2310 L778.8,2392" fill="none" stroke="#17c0ea" stroke-opacity=".36" stroke-width="5.5" stroke-linejoin="round"/>
<path d="M778.8,2310 L778.8,2392" fill="none" stroke="#17c0ea" stroke-opacity=".62" stroke-width="2.8" stroke-linejoin="round"/>
<path d="M778.8,2310 L778.8,2392" fill="none" stroke="#aeeef2" stroke-width="1.1" stroke-linejoin="round"/>
<path d="M1355.6,2310 L1355.6,2392" fill="none" stroke="#17c0ea" stroke-opacity=".07" stroke-width="16" stroke-linecap="round" stroke-linejoin="round"/>
<path d="M1355.6,2310 L1355.6,2392" fill="none" stroke="#17c0ea" stroke-opacity=".2" stroke-width="10" stroke-linecap="round" stroke-linejoin="round"/>
<path d="M1355.6,2310 L1355.6,2392" fill="none" stroke="#17c0ea" stroke-opacity=".36" stroke-width="5.5" stroke-linejoin="round"/>
<path d="M1355.6,2310 L1355.6,2392" fill="none" stroke="#17c0ea" stroke-opacity=".62" stroke-width="2.8" stroke-linejoin="round"/>
<path d="M1355.6,2310 L1355.6,2392" fill="none" stroke="#aeeef2" stroke-width="1.1" stroke-linejoin="round"/>
<path d="M1932.1,2310 L1932.1,2392" fill="none" stroke="#17c0ea" stroke-opacity=".07" stroke-width="16" stroke-linecap="round" stroke-linejoin="round"/>
<path d="M1932.1,2310 L1932.1,2392" fill="none" stroke="#17c0ea" stroke-opacity=".2" stroke-width="10" stroke-linecap="round" stroke-linejoin="round"/>
<path d="M1932.1,2310 L1932.1,2392" fill="none" stroke="#17c0ea" stroke-opacity=".36" stroke-width="5.5" stroke-linejoin="round"/>
<path d="M1932.1,2310 L1932.1,2392" fill="none" stroke="#17c0ea" stroke-opacity=".62" stroke-width="2.8" stroke-linejoin="round"/>
<path d="M1932.1,2310 L1932.1,2392" fill="none" stroke="#aeeef2" stroke-width="1.1" stroke-linejoin="round"/>
<path d="M2907.5,2310 L2907.5,2392" fill="none" stroke="#17c0ea" stroke-opacity=".07" stroke-width="16" stroke-linecap="round" stroke-linejoin="round"/>
<path d="M2907.5,2310 L2907.5,2392" fill="none" stroke="#17c0ea" stroke-opacity=".2" stroke-width="10" stroke-linecap="round" stroke-linejoin="round"/>
<path d="M2907.5,2310 L2907.5,2392" fill="none" stroke="#17c0ea" stroke-opacity=".36" stroke-width="5.5" stroke-linejoin="round"/>
<path d="M2907.5,2310 L2907.5,2392" fill="none" stroke="#17c0ea" stroke-opacity=".62" stroke-width="2.8" stroke-linejoin="round"/>
<path d="M2907.5,2310 L2907.5,2392" fill="none" stroke="#aeeef2" stroke-width="1.1" stroke-linejoin="round"/>
<path d="M3488.4,2310 L3488.4,2392" fill="none" stroke="#17c0ea" stroke-opacity=".07" stroke-width="16" stroke-linecap="round" stroke-linejoin="round"/>
<path d="M3488.4,2310 L3488.4,2392" fill="none" stroke="#17c0ea" stroke-opacity=".2" stroke-width="10" stroke-linecap="round" stroke-linejoin="round"/>
<path d="M3488.4,2310 L3488.4,2392" fill="none" stroke="#17c0ea" stroke-opacity=".36" stroke-width="5.5" stroke-linejoin="round"/>
<path d="M3488.4,2310 L3488.4,2392" fill="none" stroke="#17c0ea" stroke-opacity=".62" stroke-width="2.8" stroke-linejoin="round"/>
<path d="M3488.4,2310 L3488.4,2392" fill="none" stroke="#aeeef2" stroke-width="1.1" stroke-linejoin="round"/>
<path d="M4059.2,2310 L4059.2,2392" fill="none" stroke="#17c0ea" stroke-opacity=".07" stroke-width="16" stroke-linecap="round" stroke-linejoin="round"/>
<path d="M4059.2,2310 L4059.2,2392" fill="none" stroke="#17c0ea" stroke-opacity=".2" stroke-width="10" stroke-linecap="round" stroke-linejoin="round"/>
<path d="M4059.2,2310 L4059.2,2392" fill="none" stroke="#17c0ea" stroke-opacity=".36" stroke-width="5.5" stroke-linejoin="round"/>
<path d="M4059.2,2310 L4059.2,2392" fill="none" stroke="#17c0ea" stroke-opacity=".62" stroke-width="2.8" stroke-linejoin="round"/>
<path d="M4059.2,2310 L4059.2,2392" fill="none" stroke="#aeeef2" stroke-width="1.1" stroke-linejoin="round"/>
<path d="M779,2600.2 L779,2640" fill="none" stroke="#17c0ea" stroke-opacity=".07" stroke-width="16" stroke-linecap="round" stroke-linejoin="round"/>
<path d="M779,2600.2 L779,2640" fill="none" stroke="#17c0ea" stroke-opacity=".2" stroke-width="10" stroke-linecap="round" stroke-linejoin="round"/>
<path d="M779,2600.2 L779,2640" fill="none" stroke="#17c0ea" stroke-opacity=".36" stroke-width="5.5" stroke-linejoin="round"/>
<path d="M779,2600.2 L779,2640" fill="none" stroke="#17c0ea" stroke-opacity=".62" stroke-width="2.8" stroke-linejoin="round"/>
<path d="M779,2600.2 L779,2640" fill="none" stroke="#aeeef2" stroke-width="1.1" stroke-linejoin="round"/>
<path d="M1644,2600.2 L1644,2640" fill="none" stroke="#17c0ea" stroke-opacity=".07" stroke-width="16" stroke-linecap="round" stroke-linejoin="round"/>
<path d="M1644,2600.2 L1644,2640" fill="none" stroke="#17c0ea" stroke-opacity=".2" stroke-width="10" stroke-linecap="round" stroke-linejoin="round"/>
<path d="M1644,2600.2 L1644,2640" fill="none" stroke="#17c0ea" stroke-opacity=".36" stroke-width="5.5" stroke-linejoin="round"/>
<path d="M1644,2600.2 L1644,2640" fill="none" stroke="#17c0ea" stroke-opacity=".62" stroke-width="2.8" stroke-linejoin="round"/>
<path d="M1644,2600.2 L1644,2640" fill="none" stroke="#aeeef2" stroke-width="1.1" stroke-linejoin="round"/>
<text x="237.2" y="404.2" font-size="67.5" font-family="'Liberation Sans',sans-serif" font-weight="700" fill="#ffffff" textLength="473.5" lengthAdjust="spacingAndGlyphs" stroke="#ffffff" stroke-width="1.6">SƠ ĐỒ TỔ CHỨC</text>
<circle cx="474" cy="739" r="160" fill="#ffffff"/>
<text x="341.4" y="741.4" font-size="42.6" font-family="'Liberation Sans',sans-serif" font-weight="700" fill="#0a6ac4" textLength="264" lengthAdjust="spacingAndGlyphs" stroke="#0a6ac4" stroke-width="0.6">ĐẠI HỘI ĐỒNG</text>
<text x="388" y="791.4" font-size="42.6" font-family="'Liberation Sans',sans-serif" font-weight="700" fill="#0a6ac4" textLength="171.4" lengthAdjust="spacingAndGlyphs" stroke="#0a6ac4" stroke-width="0.6">CỔ ĐÔNG</text>
<g transform="translate(1354.8 1013.5)">
<use href="#pb" transform="rotate(0)"/>
<use href="#pb" transform="rotate(6)"/>
<use href="#pb" transform="rotate(12)"/>
<use href="#pb" transform="rotate(18)"/>
<use href="#pb" transform="rotate(24)"/>
<use href="#pb" transform="rotate(30)"/>
<use href="#pb" transform="rotate(36)"/>
<use href="#pb" transform="rotate(42)"/>
<use href="#pb" transform="rotate(48)"/>
<use href="#pb" transform="rotate(54)"/>
<use href="#pb" transform="rotate(60)"/>
<use href="#pb" transform="rotate(66)"/>
<use href="#pb" transform="rotate(72)"/>
<use href="#pb" transform="rotate(78)"/>
<use href="#pb" transform="rotate(84)"/>
<use href="#pb" transform="rotate(90)"/>
<use href="#pb" transform="rotate(96)"/>
<use href="#pb" transform="rotate(102)"/>
<use href="#pb" transform="rotate(108)"/>
<use href="#pb" transform="rotate(114)"/>
<use href="#pb" transform="rotate(120)"/>
<use href="#pb" transform="rotate(126)"/>
<use href="#pb" transform="rotate(132)"/>
<use href="#pb" transform="rotate(138)"/>
<use href="#pb" transform="rotate(144)"/>
<use href="#pb" transform="rotate(150)"/>
<use href="#pb" transform="rotate(156)"/>
<use href="#pb" transform="rotate(162)"/>
<use href="#pb" transform="rotate(168)"/>
<use href="#pb" transform="rotate(174)"/>
<use href="#pb" transform="rotate(180)"/>
<use href="#pb" transform="rotate(186)"/>
<use href="#pb" transform="rotate(192)"/>
<use href="#pb" transform="rotate(198)"/>
<use href="#pb" transform="rotate(204)"/>
<use href="#pb" transform="rotate(210)"/>
<use href="#pb" transform="rotate(216)"/>
<use href="#pb" transform="rotate(222)"/>
<use href="#pb" transform="rotate(228)"/>
<use href="#pb" transform="rotate(234)"/>
<use href="#pb" transform="rotate(240)"/>
<use href="#pb" transform="rotate(246)"/>
<use href="#pb" transform="rotate(252)"/>
<use href="#pb" transform="rotate(258)"/>
<use href="#pb" transform="rotate(264)"/>
<use href="#pb" transform="rotate(270)"/>
<use href="#pb" transform="rotate(276)"/>
<use href="#pb" transform="rotate(282)"/>
<use href="#pb" transform="rotate(288)"/>
<use href="#pb" transform="rotate(294)"/>
<use href="#pb" transform="rotate(300)"/>
<use href="#pb" transform="rotate(306)"/>
<use href="#pb" transform="rotate(312)"/>
<use href="#pb" transform="rotate(318)"/>
<use href="#pb" transform="rotate(324)"/>
<use href="#pb" transform="rotate(330)"/>
<use href="#pb" transform="rotate(336)"/>
<use href="#pb" transform="rotate(342)"/>
<use href="#pb" transform="rotate(348)"/>
<use href="#pb" transform="rotate(354)"/>
<g fill="#dff3fd">
<use href="#pw" transform="rotate(0)"/>
<use href="#pw" transform="rotate(6)"/>
<use href="#pw" transform="rotate(12)"/>
<use href="#pw" transform="rotate(18)"/>
<use href="#pw" transform="rotate(24)"/>
<use href="#pw" transform="rotate(30)"/>
<use href="#pw" transform="rotate(36)"/>
<use href="#pw" transform="rotate(42)"/>
<use href="#pw" transform="rotate(48)"/>
<use href="#pw" transform="rotate(54)"/>
<use href="#pw" transform="rotate(60)"/>
<use href="#pw" transform="rotate(66)"/>
<use href="#pw" transform="rotate(72)"/>
<use href="#pw" transform="rotate(78)"/>
<use href="#pw" transform="rotate(84)"/>
<use href="#pw" transform="rotate(90)"/>
<use href="#pw" transform="rotate(96)"/>
<use href="#pw" transform="rotate(102)"/>
<use href="#pw" transform="rotate(108)"/>
<use href="#pw" transform="rotate(114)"/>
<use href="#pw" transform="rotate(120)"/>
<use href="#pw" transform="rotate(126)"/>
<use href="#pw" transform="rotate(132)"/>
<use href="#pw" transform="rotate(138)"/>
<use href="#pw" transform="rotate(144)"/>
<use href="#pw" transform="rotate(150)"/>
<use href="#pw" transform="rotate(156)"/>
<use href="#pw" transform="rotate(162)"/>
<use href="#pw" transform="rotate(168)"/>
<use href="#pw" transform="rotate(174)"/>
<use href="#pw" transform="rotate(180)"/>
<use href="#pw" transform="rotate(186)"/>
<use href="#pw" transform="rotate(192)"/>
<use href="#pw" transform="rotate(198)"/>
<use href="#pw" transform="rotate(204)"/>
<use href="#pw" transform="rotate(210)"/>
<use href="#pw" transform="rotate(216)"/>
<use href="#pw" transform="rotate(222)"/>
<use href="#pw" transform="rotate(228)"/>
<use href="#pw" transform="rotate(234)"/>
<use href="#pw" transform="rotate(240)"/>
<use href="#pw" transform="rotate(246)"/>
<use href="#pw" transform="rotate(252)"/>
<use href="#pw" transform="rotate(258)"/>
<use href="#pw" transform="rotate(264)"/>
<use href="#pw" transform="rotate(270)"/>
<use href="#pw" transform="rotate(276)"/>
<use href="#pw" transform="rotate(282)"/>
<use href="#pw" transform="rotate(288)"/>
<use href="#pw" transform="rotate(294)"/>
<use href="#pw" transform="rotate(300)"/>
<use href="#pw" transform="rotate(306)"/>
<use href="#pw" transform="rotate(312)"/>
<use href="#pw" transform="rotate(318)"/>
<use href="#pw" transform="rotate(324)"/>
<use href="#pw" transform="rotate(330)"/>
<use href="#pw" transform="rotate(336)"/>
<use href="#pw" transform="rotate(342)"/>
<use href="#pw" transform="rotate(348)"/>
<use href="#pw" transform="rotate(354)"/>
</g>
<circle r="114" fill="#eefaff"/>
</g>
<text x="1315.9" y="1002.6" font-size="42.4" font-family="'Liberation Sans',sans-serif" font-weight="700" fill="#0a6ac4" textLength="78.2" lengthAdjust="spacingAndGlyphs" stroke="#0a6ac4" stroke-width="0.6">BAN</text>
<text x="1253.7" y="1052.5" font-size="42.4" font-family="'Liberation Sans',sans-serif" font-weight="700" fill="#0a6ac4" textLength="204" lengthAdjust="spacingAndGlyphs" stroke="#0a6ac4" stroke-width="0.6">KIỂM SOÁT</text>
<g transform="translate(1931.9 1013.5)">
<use href="#pp" transform="rotate(0)"/>
<use href="#pp" transform="rotate(6)"/>
<use href="#pp" transform="rotate(12)"/>
<use href="#pp" transform="rotate(18)"/>
<use href="#pp" transform="rotate(24)"/>
<use href="#pp" transform="rotate(30)"/>
<use href="#pp" transform="rotate(36)"/>
<use href="#pp" transform="rotate(42)"/>
<use href="#pp" transform="rotate(48)"/>
<use href="#pp" transform="rotate(54)"/>
<use href="#pp" transform="rotate(60)"/>
<use href="#pp" transform="rotate(66)"/>
<use href="#pp" transform="rotate(72)"/>
<use href="#pp" transform="rotate(78)"/>
<use href="#pp" transform="rotate(84)"/>
<use href="#pp" transform="rotate(90)"/>
<use href="#pp" transform="rotate(96)"/>
<use href="#pp" transform="rotate(102)"/>
<use href="#pp" transform="rotate(108)"/>
<use href="#pp" transform="rotate(114)"/>
<use href="#pp" transform="rotate(120)"/>
<use href="#pp" transform="rotate(126)"/>
<use href="#pp" transform="rotate(132)"/>
<use href="#pp" transform="rotate(138)"/>
<use href="#pp" transform="rotate(144)"/>
<use href="#pp" transform="rotate(150)"/>
<use href="#pp" transform="rotate(156)"/>
<use href="#pp" transform="rotate(162)"/>
<use href="#pp" transform="rotate(168)"/>
<use href="#pp" transform="rotate(174)"/>
<use href="#pp" transform="rotate(180)"/>
<use href="#pp" transform="rotate(186)"/>
<use href="#pp" transform="rotate(192)"/>
<use href="#pp" transform="rotate(198)"/>
<use href="#pp" transform="rotate(204)"/>
<use href="#pp" transform="rotate(210)"/>
<use href="#pp" transform="rotate(216)"/>
<use href="#pp" transform="rotate(222)"/>
<use href="#pp" transform="rotate(228)"/>
<use href="#pp" transform="rotate(234)"/>
<use href="#pp" transform="rotate(240)"/>
<use href="#pp" transform="rotate(246)"/>
<use href="#pp" transform="rotate(252)"/>
<use href="#pp" transform="rotate(258)"/>
<use href="#pp" transform="rotate(264)"/>
<use href="#pp" transform="rotate(270)"/>
<use href="#pp" transform="rotate(276)"/>
<use href="#pp" transform="rotate(282)"/>
<use href="#pp" transform="rotate(288)"/>
<use href="#pp" transform="rotate(294)"/>
<use href="#pp" transform="rotate(300)"/>
<use href="#pp" transform="rotate(306)"/>
<use href="#pp" transform="rotate(312)"/>
<use href="#pp" transform="rotate(318)"/>
<use href="#pp" transform="rotate(324)"/>
<use href="#pp" transform="rotate(330)"/>
<use href="#pp" transform="rotate(336)"/>
<use href="#pp" transform="rotate(342)"/>
<use href="#pp" transform="rotate(348)"/>
<use href="#pp" transform="rotate(354)"/>
<g fill="#fde8d4">
<use href="#pw" transform="rotate(0)"/>
<use href="#pw" transform="rotate(6)"/>
<use href="#pw" transform="rotate(12)"/>
<use href="#pw" transform="rotate(18)"/>
<use href="#pw" transform="rotate(24)"/>
<use href="#pw" transform="rotate(30)"/>
<use href="#pw" transform="rotate(36)"/>
<use href="#pw" transform="rotate(42)"/>
<use href="#pw" transform="rotate(48)"/>
<use href="#pw" transform="rotate(54)"/>
<use href="#pw" transform="rotate(60)"/>
<use href="#pw" transform="rotate(66)"/>
<use href="#pw" transform="rotate(72)"/>
<use href="#pw" transform="rotate(78)"/>
<use href="#pw" transform="rotate(84)"/>
<use href="#pw" transform="rotate(90)"/>
<use href="#pw" transform="rotate(96)"/>
<use href="#pw" transform="rotate(102)"/>
<use href="#pw" transform="rotate(108)"/>
<use href="#pw" transform="rotate(114)"/>
<use href="#pw" transform="rotate(120)"/>
<use href="#pw" transform="rotate(126)"/>
<use href="#pw" transform="rotate(132)"/>
<use href="#pw" transform="rotate(138)"/>
<use href="#pw" transform="rotate(144)"/>
<use href="#pw" transform="rotate(150)"/>
<use href="#pw" transform="rotate(156)"/>
<use href="#pw" transform="rotate(162)"/>
<use href="#pw" transform="rotate(168)"/>
<use href="#pw" transform="rotate(174)"/>
<use href="#pw" transform="rotate(180)"/>
<use href="#pw" transform="rotate(186)"/>
<use href="#pw" transform="rotate(192)"/>
<use href="#pw" transform="rotate(198)"/>
<use href="#pw" transform="rotate(204)"/>
<use href="#pw" transform="rotate(210)"/>
<use href="#pw" transform="rotate(216)"/>
<use href="#pw" transform="rotate(222)"/>
<use href="#pw" transform="rotate(228)"/>
<use href="#pw" transform="rotate(234)"/>
<use href="#pw" transform="rotate(240)"/>
<use href="#pw" transform="rotate(246)"/>
<use href="#pw" transform="rotate(252)"/>
<use href="#pw" transform="rotate(258)"/>
<use href="#pw" transform="rotate(264)"/>
<use href="#pw" transform="rotate(270)"/>
<use href="#pw" transform="rotate(276)"/>
<use href="#pw" transform="rotate(282)"/>
<use href="#pw" transform="rotate(288)"/>
<use href="#pw" transform="rotate(294)"/>
<use href="#pw" transform="rotate(300)"/>
<use href="#pw" transform="rotate(306)"/>
<use href="#pw" transform="rotate(312)"/>
<use href="#pw" transform="rotate(318)"/>
<use href="#pw" transform="rotate(324)"/>
<use href="#pw" transform="rotate(330)"/>
<use href="#pw" transform="rotate(336)"/>
<use href="#pw" transform="rotate(342)"/>
<use href="#pw" transform="rotate(348)"/>
<use href="#pw" transform="rotate(354)"/>
</g>
<circle r="114" fill="#f1f1f2"/>
</g>
<text x="1826.8" y="1002.6" font-size="42.4" font-family="'Liberation Sans',sans-serif" font-weight="700" fill="#9c9ea2" textLength="210" lengthAdjust="spacingAndGlyphs" stroke="#9c9ea2" stroke-width="0.6">KIỂM TOÁN</text>
<text x="1868" y="1052.5" font-size="42.4" font-family="'Liberation Sans',sans-serif" font-weight="700" fill="#9c9ea2" textLength="129" lengthAdjust="spacingAndGlyphs" stroke="#9c9ea2" stroke-width="0.6">NỘI BỘ</text>
<g stroke="#f7a81b" stroke-width="3.3" stroke-linecap="round" fill="none">
<path d="M611.5,1256.3 L687.5,1256.3"/>
<path d="M610.3,1238.3 L660.9,1231.6"/>
<path d="M606.8,1220.6 L616,1218.1"/>
<path d="M631.9,1213.9 L650.3,1208.9"/>
<path d="M601,1203.5 L646.3,1184.7"/>
<path d="M593,1187.3 L637.2,1161.8"/>
<path d="M583,1172.3 L642.5,1126.6"/>
<path d="M571.1,1158.7 L606.4,1123.4"/>
<path d="M557.5,1146.8 L563.3,1139.3"/>
<path d="M573.3,1126.2 L584.9,1111.1"/>
<path d="M542.5,1136.8 L562.5,1102.1"/>
<path d="M526.3,1128.8 L546.2,1080.8"/>
<path d="M509.2,1123 L511.7,1113.8"/>
<path d="M515.9,1097.9 L520.9,1079.5"/>
<path d="M491.5,1119.5 L498,1069.9"/>
<path d="M473.5,1118.3 L473.5,1042.3"/>
<path d="M455.5,1119.5 L450.3,1079.8"/>
<path d="M437.8,1123 L424.8,1074.7"/>
<path d="M420.7,1128.8 L417.1,1120"/>
<path d="M410.7,1104.8 L403.5,1087.2"/>
<path d="M404.5,1136.8 L385,1103"/>
<path d="M389.5,1146.8 L343.8,1087.3"/>
<path d="M375.9,1158.7 L369.2,1152"/>
<path d="M357.5,1140.3 L344.1,1126.9"/>
<path d="M364,1172.3 L324.3,1141.9"/>
<path d="M354,1187.3 L309.8,1161.8"/>
<path d="M346,1203.5 L310,1188.6"/>
<path d="M340.2,1220.6 L292.9,1207.9"/>
<path d="M336.7,1238.3 L327.3,1237"/>
<path d="M310.9,1234.9 L292.1,1232.4"/>
<path d="M335.5,1256.3 L259.5,1256.3"/>
<path d="M336.7,1274.3 L327.3,1275.6"/>
<path d="M310.9,1277.7 L292.1,1280.2"/>
<path d="M340.2,1292 L292.9,1304.7"/>
<path d="M346,1309.1 L310,1324"/>
<path d="M354,1325.3 L309.8,1350.8"/>
<path d="M364,1340.3 L324.3,1370.7"/>
<path d="M375.9,1353.9 L369.2,1360.6"/>
<path d="M357.5,1372.3 L344.1,1385.7"/>
<path d="M389.5,1365.8 L343.8,1425.3"/>
<path d="M404.5,1375.8 L385,1409.6"/>
<path d="M420.7,1383.8 L417.1,1392.6"/>
<path d="M410.7,1407.8 L403.5,1425.4"/>
<path d="M437.8,1389.6 L424.8,1437.9"/>
<path d="M455.5,1393.1 L450.3,1432.8"/>
<path d="M473.5,1394.3 L473.5,1470.3"/>
<path d="M491.5,1393.1 L498,1442.7"/>
<path d="M509.2,1389.6 L511.7,1398.8"/>
<path d="M515.9,1414.7 L520.9,1433.1"/>
<path d="M526.3,1383.8 L546.2,1431.8"/>
<path d="M542.5,1375.8 L562.5,1410.5"/>
<path d="M557.5,1365.8 L563.3,1373.3"/>
<path d="M573.3,1386.4 L584.9,1401.5"/>
<path d="M571.1,1353.9 L606.4,1389.2"/>
<path d="M583,1340.3 L642.5,1386"/>
<path d="M593,1325.3 L637.2,1350.8"/>
<path d="M601,1309.1 L646.3,1327.9"/>
<path d="M606.8,1292 L616,1294.5"/>
<path d="M631.9,1298.7 L650.3,1303.7"/>
<path d="M610.3,1274.3 L660.9,1281"/>
</g>
<circle cx="473.5" cy="1256.3" r="136.5" fill="#f7a81b"/>
<circle cx="473.5" cy="1256.3" r="134.5" fill="#ffffff"/>
<circle cx="473.5" cy="1256.3" r="130" fill="#fbaa19"/>
<text x="382.3" y="1247.5" font-size="42.5" font-family="'Liberation Sans',sans-serif" font-weight="700" fill="#ffffff" textLength="183.4" lengthAdjust="spacingAndGlyphs" stroke="#ffffff" stroke-width="0.7">HỘI ĐỒNG</text>
<text x="383.5" y="1297.5" font-size="42.5" font-family="'Liberation Sans',sans-serif" font-weight="700" fill="#ffffff" textLength="179" lengthAdjust="spacingAndGlyphs" stroke="#ffffff" stroke-width="0.7">QUẢN TRỊ</text>
<path d="M563.9,1813.4 L569.2,1818.7 L574.5,1824 L579.8,1829.3 L579.2,1840.3 L584.2,1845.8 M467.5,1596.8 L467.1,1589.3 L466.7,1581.8 M554,1822.3 L553.2,1832.4 L551.4,1842.7 L555.5,1849 L559.6,1855.3 L563.7,1861.6 M351.4,1756.5 L346.2,1765.2 L339,1767.5 L331.9,1769.8 M513.3,1602.8 L515.7,1595.7 L518,1588.5 L512.8,1579.2 L514.7,1571.9 L516.7,1564.7 L518.6,1557.5 L520.6,1550.2 M371.4,1649 L365.3,1644.5 L359.2,1640.1 L357.9,1629.5 L352.1,1624.8 L346.3,1620.1 L346.3,1608.5 L334.6,1610.6 M349.9,1697.2 L344.2,1688.8 L335.2,1694.1 L329.7,1684.9 M447.7,1847.8 L453.1,1856.4 L451.9,1863.9 L450.7,1871.3 M525.8,1839.6 L528.8,1846.5 L525,1856.2 L527.7,1863.2 L530.4,1870.2 M389.1,1818 L379,1818.7 L373.7,1824 L374.1,1834.7 M487.4,1849.9 L481.1,1857.9 L481.5,1865.4 L489.7,1872.3 L490.5,1879.7 L491.3,1887.2 M324.8,1772.1 L317.7,1774.4 L308,1768.1 M449.5,1878.7 L448.4,1886.1 L456.1,1894.7 L455.3,1902.1 L464.5,1907.3 M543.3,1830.1 L541.4,1840.1 L545.1,1846.6 L548.9,1853.1 L552.6,1859.6 L556.4,1866.1 L560.1,1872.6 L571.9,1874.1 M467.5,1850.4 L460,1857.4 L459.3,1864.8 L458.5,1872.3 L457.7,1879.7 L465.5,1887.9 L465.1,1895.4 L474.1,1903.1 M563.9,1633.8 L564.1,1623.6 L563.5,1613.2 L568.2,1607.4 L572.9,1601.6 M375.4,1643.7 L369.6,1639 L368.6,1628.6 M572.8,1643.7 L582.9,1644.5 L593.2,1646.3 L599.5,1642.2 L605.8,1638.1 M360.9,1665.9 L354.3,1662.5 L344.4,1665.8 L337.5,1662.8 L334.2,1652.3 M569.1,1618.1 L574.1,1612.5 L579.2,1606.9 L584.2,1601.4 L582.3,1589.9 L587.1,1584.1 L589.9,1580.6 M358.1,1775.3 L351.2,1778.3 L341.5,1774.5 M507,1600.9 L508.9,1593.7 L503.6,1584.7 L505.2,1577.4 L506.7,1570 L508.3,1562.7 L509.9,1555.4 L511.4,1548 L512.4,1543.6 M525.8,1607.6 L535.2,1603.8 L538.6,1597.1 L542,1590.4 L545.4,1583.7 L548.8,1577 M410.6,1833.6 L406.9,1840.1 L409.6,1850.1 L406.2,1856.8 L410.2,1867 M494,1849 L502.1,1855.2 L496.3,1863.9 M587.3,1781.3 L590.6,1790.8 L600.6,1788.1 M600.4,1736.9 L606.9,1744.6 L614.4,1745.8 L620.3,1754.7 L627.7,1756.2 L635,1757.8 M568.5,1638.6 L574.1,1633.6 L579.6,1628.6 M494,1598.2 L488.2,1589.8 L488.9,1582.4 L481.9,1574.3 L490.5,1567.5 M531.8,1836.8 L535.2,1843.4 L538.6,1850.1 L542,1856.8 L545.4,1863.5 L548.8,1870.2 M347.3,1717 L339.8,1716.6 L332.1,1723.6 L324.6,1723.6 L317.1,1723.6 L309.6,1723.6 L302.3,1732.6 L294.6,1723.6 M537.6,1613.6 L547.4,1610.8 L551.4,1604.5 L555.5,1598.2 L559.6,1591.9 L563.7,1585.6 L567.8,1579.3 L579.6,1578.4 L582.3,1574.7 M399.5,1826.3 L395,1832.4 L390.6,1838.5 L392.7,1849 L395.6,1859.6 L391.9,1866.1 L388.1,1872.6 L392.6,1883.5 M347.8,1710.3 L340.3,1709.5 L332.9,1708.8 L324.8,1715.8 L317.3,1715.4 L309.8,1715 L303,1705.6 L295.6,1704.8 L292.4,1694.8 M379.7,1808.6 L374.1,1813.6 L368.6,1818.6 L363,1823.6 L363.1,1834.6 M394.2,1822.3 L389.5,1828.1 L384.7,1834 L380,1839.8 L375.3,1845.6 M394.2,1624.9 L389.5,1619.1 L379.1,1618.1 L368.4,1617.9 M600.4,1710.3 L607.9,1709.5 L614.4,1701.4 L620.3,1692.5 L629.2,1699 M416.4,1836.8 L419.4,1846.5 L423.2,1856.2 L420.5,1863.2 L417.8,1870.2 L415.1,1877.2 M572.8,1803.5 L574.1,1813.6 L579.6,1818.6 L585.2,1823.6 L590.8,1828.7 M364.1,1660.1 L357.6,1656.3 L351.1,1652.6 L348.7,1642.2 L338.1,1645.1 M474.1,1596.6 L474.1,1589.1 L474.1,1581.6 L474.1,1574.1 M367.6,1792.8 L361.3,1796.9 L355,1800.9 L353.2,1811.5 M454.2,1598.2 L460,1589.8 L459.3,1582.4 M360.9,1781.3 L354.3,1784.7 L347.6,1788.1 M375.4,1803.5 L369.6,1808.2 L363.7,1813 L357.9,1817.7 L352.1,1822.4 L351.9,1833.7 M599.5,1703.7 L605.7,1695.6 L611.3,1686.8 L618.5,1684.9 L625.8,1683 L633,1681 L642.3,1687.8 L651.4,1695.5 M594.9,1762.8 L599.7,1771.8 L606.7,1774.5 L616.3,1769.8 L623.4,1772.1 L630.5,1774.4 L640.2,1768.1 L649.7,1760.9 M434.9,1844.4 L439.3,1853.5 L444.6,1862.5 L443,1869.8 M434.9,1602.8 L432.5,1595.7 L423.2,1591 L427.9,1581.4 L433.5,1571.9 L439.9,1562.7 L438.3,1555.4 L427.6,1550.2 L426.5,1545.9 M447.7,1599.4 L446.1,1592 L444.6,1584.7 L443,1577.4 L449.5,1568.5 L448.4,1561.1 L456.1,1552.5 L455.3,1545.1 L454.9,1540.6 M519.6,1605 L522.3,1598 L525,1591 L527.7,1584 L530.4,1577 L541,1573.3 L544.1,1566.5 L547.1,1559.6 M596.3,1833.7 L601.9,1838.7 L601,1850.5 L610.8,1846.7 M371.4,1798.2 L365.3,1802.7 M441.2,1600.9 L439.3,1593.7 L437.3,1586.4 M559.1,1818 L564.1,1823.6 L569.1,1829.1 L568.2,1839.8 L572.9,1845.6 L570.8,1856.7 M357.8,1839.9 L359,1851.4 L361.1,1863.1 L351,1860.3 M491.3,1560 L492.1,1552.5 L492.9,1545.1 L483.7,1539.9 M379.7,1638.6 L379,1628.5 M422.4,1607.6 L419.4,1600.7 L416.3,1593.9 L413.3,1587 L402.8,1583.7 L407.2,1573.3 L404.1,1566.5 L401.1,1559.6 L399.3,1555.5 M503.6,1862.5 L505.2,1869.8 L498.7,1878.7 L508.3,1884.5 L509.9,1891.8 L520.6,1897 L512.4,1903.6 M437.3,1860.8 L435.4,1868 L425.6,1872.9 M347.8,1736.9 L339.8,1730.6 L332.3,1731 M597.1,1794.6 L599.5,1805 L601.1,1815.9 L601.9,1827.1 L607.8,1831.8 L619.3,1829.1 L623,1831.8 M601.1,1723.6 L608.6,1723.6 L616.1,1723.6 L623.4,1731.4 L631.1,1723.6 L638.4,1715 L645.2,1705.6 L652.6,1704.8 L657.1,1704.4 M348.7,1703.7 L341.3,1702.6 L333.8,1701.4 L326.4,1700.2 L318,1707.2 L311.6,1697.9 M481.9,1872.9 L482.3,1880.4 L482.7,1887.9 L483.1,1895.4 L483.5,1902.9 M353.3,1684.4 L346.2,1682 L339,1679.7 L331.9,1677.4 L324.8,1675.1 M507,1846.3 L508.9,1853.5 L510.9,1860.8 L512.8,1868 M349.9,1750 L342.5,1751.6 L335.2,1753.1 L326.4,1747 L320.5,1756.2 M404.9,1830.1 L400.8,1836.4 M594.9,1684.4 L602,1682 L609.2,1679.7 L616.3,1677.4 L620.7,1667.3 L627.7,1664.6 L631.2,1653.6 L634,1642.1 L642.2,1648.8 M621.8,1747 L629.2,1748.2 L636.6,1749.3 L644,1750.5 L651.4,1751.7 L655.8,1752.4 M480.7,1596.8 L481.1,1589.3 M474.1,1850.6 L474.1,1858.1 L474.1,1865.6 L474.1,1873.1 L474.1,1880.6 L474.1,1888.1 M587.3,1665.9 L593.9,1662.5 L600.6,1659.1 L607.3,1655.7 M598.3,1750 L605.7,1751.6 L611.3,1760.4 L618.5,1762.3 M613.7,1777.2 L620.7,1779.9 L624.4,1790.5 M590.1,1775.3 L597,1778.3 L603.8,1781.4 M355.5,1678.1 L348.5,1675.4 L341.5,1672.7 L334.5,1670 L327.5,1667.3 L320.5,1664.6 L313.5,1662 L306.5,1659.3 M600.9,1730.2 L608.4,1730.6 L615.3,1738.4 L622.8,1739.2 L630.2,1740 L637.7,1740.8 L645.2,1741.6 L652.6,1742.4 M404.9,1617.1 L400.8,1610.8 L396.8,1604.5 L392.7,1598.2 L395.6,1587.6 L384.5,1585.6 M563.9,1879.1 L566.1,1882.9 M554,1624.9 L553.2,1614.8 L557.6,1608.7 M364.1,1787.1 L357.6,1790.8 L351.1,1794.6 L344.6,1798.3 L338.1,1802.1 L336.1,1813.2 L329.8,1817.3 L323.6,1821.4 L319.8,1823.8 M416.4,1610.4 L413,1603.8 L403.1,1600.6 M458.5,1574.9 L457.7,1567.5 L465.5,1559.3 L465.1,1551.8 M580.6,1792.8 L582.9,1802.7 L584.5,1813 L590.3,1817.7 M557.6,1838.5 L562,1844.5 M592.7,1678.1 L599.7,1675.4 L606.7,1672.7 L610.7,1662.8 M589,1640.1 L590.3,1629.5 L601.1,1631.3 M571.9,1573.1 L574.3,1569.3 M399.5,1620.9 L395,1614.8 L390.6,1608.7 L386.2,1602.7 L381.8,1596.6 L377.4,1590.5 L373,1584.4 L361.1,1584.1 M590.1,1671.9 L597,1668.9 M562,1602.7 L566.4,1596.6 L570.8,1590.5 M519.6,1842.2 L515.7,1851.5 L518,1858.7 L520.3,1865.8 L522.6,1872.9 L524.9,1880 M527.3,1887.2 L538.4,1891.2 L540,1895.4 M363.1,1612.6 L357.8,1607.3 L352.5,1602 M322.4,1683 L315.2,1681 L308,1679.1 L300.7,1677.1 L294.1,1685.3 M600.9,1717 L608.4,1716.6 L615.9,1716.2 L623.4,1715.8 L630.2,1707.2 M324.8,1731.4 L318,1740 L310.5,1740.8 L303,1741.6 L296.8,1751.7 L291.1,1742.8 M552.2,1570.3 L555.6,1563.7 L557.6,1559.7 M580.6,1654.4 L590.6,1656.3 L597.1,1652.6 L603.6,1648.8 L610.1,1645.1 L616.6,1641.3 L623.1,1637.6 L624.6,1625.8 L628.4,1623.4 M367.6,1654.4 L361.3,1650.3 M629.6,1633.8 L633.4,1631.6 M348.7,1743.5 L341.3,1744.6 L332.9,1738.4 M607.3,1791.5 L614,1794.9 L620.7,1798.3 L627.4,1801.7 L634,1805.1 L642.2,1798.4 M585.1,1834.6 L590.4,1839.9 M352.5,1845.2 L347.2,1850.5 L344,1853.7 M585.2,1623.6 L590.8,1618.5 L601.9,1620.1 L607.8,1615.4 L613.6,1610.6 L610.8,1600.5 M501,1893.5 L502.2,1900.9 L502.9,1905.3 M431.5,1564.7 L420.9,1560 L418.6,1552.9 L417.2,1548.6 M466.7,1865.4 L466.3,1872.9 M313.5,1785.2 L306.5,1787.9 L306,1798.4 M380.4,1579.3 L376.3,1573.1 L373.9,1569.3 M647.5,1677.1 L651.8,1676 M612.1,1634 L613.3,1622.5 L619.3,1618.1 L623,1615.4 M311.6,1749.3 L305.9,1759.4 L298.5,1760.9 L296.4,1771.2 M409.8,1891.2 L408.2,1895.4 M634.7,1785.2 L641.7,1787.9 L645.9,1789.5 M373,1862.8 L368.6,1868.8 L365.9,1872.5 M522.6,1574.3 L524.9,1567.2 L527.3,1560 L529.6,1552.9 M303.4,1779.1 L299.1,1780.5 M474.1,1551.6 L474.1,1544.1 L474.1,1539.6 M314.2,1642.1 L310.2,1640.1 M376.3,1874.1 L373.9,1877.9 M589.2,1595.8 L594.2,1590.2 L597.2,1586.9 M447.2,1553.7 L446,1546.3 L435.8,1543.6 M334.2,1794.9 L327.5,1798.3 L325.1,1809.6 L318.6,1813.3 L314.8,1815.6 M534.9,1860.2 L538,1867 L541,1873.9 M531.9,1593.9 L534.9,1587 M392.6,1563.7 L390.6,1559.7 M644.8,1779.1 L649.1,1780.5 M420.5,1584 L417.8,1577 L415.1,1570 L412.5,1563 L409.8,1556 M407.2,1873.9 L404.1,1880.7 L401.1,1887.6 L399.3,1891.7 M618.4,1817.3 L624.6,1821.4 L633.4,1815.6 M334.6,1836.6 L337.4,1846.7 M616.6,1805.8 L623.1,1809.6 M552.2,1876.9 L547.1,1887.6 L548.9,1891.7 M601,1596.7 L604.2,1593.5 M432.5,1851.5 L430.2,1858.7 M294.8,1714.2 L290.4,1714 M330.7,1659.7 L323.8,1656.7 L317,1653.6 L310.1,1650.6 L306,1648.8 M498.7,1568.5 L499.8,1561.1 L501,1553.7 L502.2,1546.3 M649.7,1686.3 L654.1,1685.3 M641.7,1659.3 L649.1,1666.7 M347.2,1596.7 L344,1593.5 M325.1,1637.6 L323.6,1625.8 L319.8,1623.4 M327.9,1692.5 L320.5,1691 L313.2,1689.4 L305.9,1687.8 M645.9,1714.6 L653.4,1714.2 L658.1,1723.6 M391.8,1581.1 L388.1,1574.6 L384.3,1568.1 L382.1,1564.3 M617.5,1659.7 L620.7,1648.9 M552.6,1587.6 L556.4,1581.1 L560.1,1574.6 L563.9,1568.1 L566.1,1564.3 M464.7,1544.3 L464.5,1539.9 M329.7,1762.3 L322.4,1764.2 M336.1,1634 L334.9,1622.5 L328.9,1618.1 L325.2,1615.4 M514.7,1875.3 L516.7,1882.5 M638.4,1732.2 L646.1,1723.6 L653.4,1733 L657.8,1733.2 M359,1595.8 L354,1590.2 L351,1586.9 M613.6,1836.6 L617.1,1839.4 M535.7,1563 L538.4,1556 L540,1551.8 M375.3,1601.6 L370.6,1595.8 M341,1820.3 L334.9,1824.7 L328.9,1829.1 M439.9,1884.5 L438.3,1891.8 L436.8,1899.2 M529.6,1894.3 L531,1898.6 M427.6,1897 L426.5,1901.3 M363,1623.6 L357.4,1618.5 M337.5,1784.4 L330.7,1787.5 L320.5,1782.6 L317,1793.6 L314.2,1805.1 L310.2,1807.1 M579.6,1868.8 L582.3,1872.5 M482.7,1559.3 L483.1,1551.8 M310.5,1670.4 L303.4,1668.1 L299.1,1666.7 M368.6,1578.4 L365.9,1574.7 M589.2,1851.4 L587.1,1863.1 L597.2,1860.3 M446,1900.9 L445.3,1905.3 M431.5,1882.5 L429.6,1889.7 L418.6,1894.3 L417.2,1898.6 M605.8,1809.1 L612.1,1813.2 M623.4,1675.1 L630.5,1672.8 M453.1,1590.8 L451.9,1583.3 M388.6,1855.3 L384.5,1861.6 L380.4,1867.9 M545.1,1600.6 L548.9,1594.1 M369,1606.9 L364,1601.4 M492.1,1894.7 L492.9,1902.1 L493.3,1906.6 M555.6,1883.5 L557.6,1887.5 M384.4,1879.1 L382.1,1882.9 M647.5,1770.1 L651.8,1771.2 M294.8,1733 L290.4,1733.2 M386.2,1844.5 L381.8,1850.6 L377.4,1856.7 M384.7,1613.2 L380,1607.4 M340.7,1603.5 L337.4,1600.5 M590.4,1607.3 L595.7,1602" stroke="#1fb2f3" stroke-width="1.25" fill="none" stroke-linecap="round" stroke-linejoin="round"/>
<g fill="#1fb2f3">
<circle cx="584.2" cy="1845.8" r="1.9"/>
<circle cx="466.7" cy="1581.8" r="1.9"/>
<circle cx="563.7" cy="1861.6" r="1.9"/>
<circle cx="331.9" cy="1769.8" r="1.9"/>
<circle cx="520.6" cy="1550.2" r="1.9"/>
<circle cx="334.6" cy="1610.6" r="1.9"/>
<circle cx="329.7" cy="1684.9" r="1.9"/>
<circle cx="450.7" cy="1871.3" r="1.9"/>
<circle cx="530.4" cy="1870.2" r="1.9"/>
<circle cx="374.1" cy="1834.7" r="1.9"/>
<circle cx="491.3" cy="1887.2" r="1.9"/>
<circle cx="308" cy="1768.1" r="1.9"/>
<circle cx="324.8" cy="1772.1" r="1.9"/>
<circle cx="464.5" cy="1907.3" r="1.9"/>
<circle cx="449.5" cy="1878.7" r="1.9"/>
<circle cx="571.9" cy="1874.1" r="1.9"/>
<circle cx="474.1" cy="1903.1" r="1.9"/>
<circle cx="572.9" cy="1601.6" r="1.9"/>
<circle cx="368.6" cy="1628.6" r="1.9"/>
<circle cx="605.8" cy="1638.1" r="1.9"/>
<circle cx="334.2" cy="1652.3" r="1.9"/>
<circle cx="589.9" cy="1580.6" r="1.9"/>
<circle cx="569.1" cy="1618.1" r="1.9"/>
<circle cx="341.5" cy="1774.5" r="1.9"/>
<circle cx="512.4" cy="1543.6" r="1.9"/>
<circle cx="548.8" cy="1577" r="1.9"/>
<circle cx="410.2" cy="1867" r="1.9"/>
<circle cx="496.3" cy="1863.9" r="1.9"/>
<circle cx="600.6" cy="1788.1" r="1.9"/>
<circle cx="635" cy="1757.8" r="1.9"/>
<circle cx="579.6" cy="1628.6" r="1.9"/>
<circle cx="490.5" cy="1567.5" r="1.9"/>
<circle cx="548.8" cy="1870.2" r="1.9"/>
<circle cx="294.6" cy="1723.6" r="1.9"/>
<circle cx="582.3" cy="1574.7" r="1.9"/>
<circle cx="392.6" cy="1883.5" r="1.9"/>
<circle cx="292.4" cy="1694.8" r="1.9"/>
<circle cx="363.1" cy="1834.6" r="1.9"/>
<circle cx="375.3" cy="1845.6" r="1.9"/>
<circle cx="368.4" cy="1617.9" r="1.9"/>
<circle cx="629.2" cy="1699" r="1.9"/>
<circle cx="415.1" cy="1877.2" r="1.9"/>
<circle cx="590.8" cy="1828.7" r="1.9"/>
<circle cx="338.1" cy="1645.1" r="1.9"/>
<circle cx="474.1" cy="1574.1" r="1.9"/>
<circle cx="353.2" cy="1811.5" r="1.9"/>
<circle cx="459.3" cy="1582.4" r="1.9"/>
<circle cx="347.6" cy="1788.1" r="1.9"/>
<circle cx="351.9" cy="1833.7" r="1.9"/>
<circle cx="651.4" cy="1695.5" r="1.9"/>
<circle cx="649.7" cy="1760.9" r="1.9"/>
<circle cx="443" cy="1869.8" r="1.9"/>
<circle cx="426.5" cy="1545.9" r="1.9"/>
<circle cx="454.9" cy="1540.6" r="1.9"/>
<circle cx="547.1" cy="1559.6" r="1.9"/>
<circle cx="610.8" cy="1846.7" r="1.9"/>
<circle cx="596.3" cy="1833.7" r="1.9"/>
<circle cx="365.3" cy="1802.7" r="1.9"/>
<circle cx="437.3" cy="1586.4" r="1.9"/>
<circle cx="570.8" cy="1856.7" r="1.9"/>
<circle cx="351" cy="1860.3" r="1.9"/>
<circle cx="357.8" cy="1839.9" r="1.9"/>
<circle cx="483.7" cy="1539.9" r="1.9"/>
<circle cx="491.3" cy="1560" r="1.9"/>
<circle cx="379" cy="1628.5" r="1.9"/>
<circle cx="399.3" cy="1555.5" r="1.9"/>
<circle cx="512.4" cy="1903.6" r="1.9"/>
<circle cx="503.6" cy="1862.5" r="1.9"/>
<circle cx="425.6" cy="1872.9" r="1.9"/>
<circle cx="437.3" cy="1860.8" r="1.9"/>
<circle cx="332.3" cy="1731" r="1.9"/>
<circle cx="623" cy="1831.8" r="1.9"/>
<circle cx="597.1" cy="1794.6" r="1.9"/>
<circle cx="657.1" cy="1704.4" r="1.9"/>
<circle cx="311.6" cy="1697.9" r="1.9"/>
<circle cx="483.5" cy="1902.9" r="1.9"/>
<circle cx="481.9" cy="1872.9" r="1.9"/>
<circle cx="324.8" cy="1675.1" r="1.9"/>
<circle cx="512.8" cy="1868" r="1.9"/>
<circle cx="320.5" cy="1756.2" r="1.9"/>
<circle cx="400.8" cy="1836.4" r="1.9"/>
<circle cx="642.2" cy="1648.8" r="1.9"/>
<circle cx="655.8" cy="1752.4" r="1.9"/>
<circle cx="621.8" cy="1747" r="1.9"/>
<circle cx="481.1" cy="1589.3" r="1.9"/>
<circle cx="474.1" cy="1888.1" r="1.9"/>
<circle cx="607.3" cy="1655.7" r="1.9"/>
<circle cx="618.5" cy="1762.3" r="1.9"/>
<circle cx="624.4" cy="1790.5" r="1.9"/>
<circle cx="613.7" cy="1777.2" r="1.9"/>
<circle cx="603.8" cy="1781.4" r="1.9"/>
<circle cx="306.5" cy="1659.3" r="1.9"/>
<circle cx="652.6" cy="1742.4" r="1.9"/>
<circle cx="384.5" cy="1585.6" r="1.9"/>
<circle cx="566.1" cy="1882.9" r="1.9"/>
<circle cx="563.9" cy="1879.1" r="1.9"/>
<circle cx="557.6" cy="1608.7" r="1.9"/>
<circle cx="319.8" cy="1823.8" r="1.9"/>
<circle cx="403.1" cy="1600.6" r="1.9"/>
<circle cx="465.1" cy="1551.8" r="1.9"/>
<circle cx="458.5" cy="1574.9" r="1.9"/>
<circle cx="590.3" cy="1817.7" r="1.9"/>
<circle cx="562" cy="1844.5" r="1.9"/>
<circle cx="557.6" cy="1838.5" r="1.9"/>
<circle cx="610.7" cy="1662.8" r="1.9"/>
<circle cx="601.1" cy="1631.3" r="1.9"/>
<circle cx="589" cy="1640.1" r="1.9"/>
<circle cx="574.3" cy="1569.3" r="1.9"/>
<circle cx="571.9" cy="1573.1" r="1.9"/>
<circle cx="361.1" cy="1584.1" r="1.9"/>
<circle cx="597" cy="1668.9" r="1.9"/>
<circle cx="570.8" cy="1590.5" r="1.9"/>
<circle cx="562" cy="1602.7" r="1.9"/>
<circle cx="524.9" cy="1880" r="1.9"/>
<circle cx="540" cy="1895.4" r="1.9"/>
<circle cx="527.3" cy="1887.2" r="1.9"/>
<circle cx="352.5" cy="1602" r="1.9"/>
<circle cx="363.1" cy="1612.6" r="1.9"/>
<circle cx="294.1" cy="1685.3" r="1.9"/>
<circle cx="322.4" cy="1683" r="1.9"/>
<circle cx="630.2" cy="1707.2" r="1.9"/>
<circle cx="291.1" cy="1742.8" r="1.9"/>
<circle cx="324.8" cy="1731.4" r="1.9"/>
<circle cx="557.6" cy="1559.7" r="1.9"/>
<circle cx="552.2" cy="1570.3" r="1.9"/>
<circle cx="628.4" cy="1623.4" r="1.9"/>
<circle cx="361.3" cy="1650.3" r="1.9"/>
<circle cx="633.4" cy="1631.6" r="1.9"/>
<circle cx="629.6" cy="1633.8" r="1.9"/>
<circle cx="332.9" cy="1738.4" r="1.9"/>
<circle cx="642.2" cy="1798.4" r="1.9"/>
<circle cx="607.3" cy="1791.5" r="1.9"/>
<circle cx="590.4" cy="1839.9" r="1.9"/>
<circle cx="585.1" cy="1834.6" r="1.9"/>
<circle cx="344" cy="1853.7" r="1.9"/>
<circle cx="352.5" cy="1845.2" r="1.9"/>
<circle cx="610.8" cy="1600.5" r="1.9"/>
<circle cx="585.2" cy="1623.6" r="1.9"/>
<circle cx="502.9" cy="1905.3" r="1.9"/>
<circle cx="501" cy="1893.5" r="1.9"/>
<circle cx="417.2" cy="1548.6" r="1.9"/>
<circle cx="431.5" cy="1564.7" r="1.9"/>
<circle cx="466.3" cy="1872.9" r="1.9"/>
<circle cx="466.7" cy="1865.4" r="1.9"/>
<circle cx="306" cy="1798.4" r="1.9"/>
<circle cx="313.5" cy="1785.2" r="1.9"/>
<circle cx="373.9" cy="1569.3" r="1.9"/>
<circle cx="380.4" cy="1579.3" r="1.9"/>
<circle cx="651.8" cy="1676" r="1.9"/>
<circle cx="647.5" cy="1677.1" r="1.9"/>
<circle cx="623" cy="1615.4" r="1.9"/>
<circle cx="612.1" cy="1634" r="1.9"/>
<circle cx="296.4" cy="1771.2" r="1.9"/>
<circle cx="311.6" cy="1749.3" r="1.9"/>
<circle cx="408.2" cy="1895.4" r="1.9"/>
<circle cx="409.8" cy="1891.2" r="1.9"/>
<circle cx="645.9" cy="1789.5" r="1.9"/>
<circle cx="634.7" cy="1785.2" r="1.9"/>
<circle cx="365.9" cy="1872.5" r="1.9"/>
<circle cx="373" cy="1862.8" r="1.9"/>
<circle cx="529.6" cy="1552.9" r="1.9"/>
<circle cx="522.6" cy="1574.3" r="1.9"/>
<circle cx="299.1" cy="1780.5" r="1.9"/>
<circle cx="303.4" cy="1779.1" r="1.9"/>
<circle cx="474.1" cy="1539.6" r="1.9"/>
<circle cx="474.1" cy="1551.6" r="1.9"/>
<circle cx="310.2" cy="1640.1" r="1.9"/>
<circle cx="314.2" cy="1642.1" r="1.9"/>
<circle cx="373.9" cy="1877.9" r="1.9"/>
<circle cx="376.3" cy="1874.1" r="1.9"/>
<circle cx="597.2" cy="1586.9" r="1.9"/>
<circle cx="589.2" cy="1595.8" r="1.9"/>
<circle cx="435.8" cy="1543.6" r="1.9"/>
<circle cx="447.2" cy="1553.7" r="1.9"/>
<circle cx="314.8" cy="1815.6" r="1.9"/>
<circle cx="334.2" cy="1794.9" r="1.9"/>
<circle cx="541" cy="1873.9" r="1.9"/>
<circle cx="534.9" cy="1860.2" r="1.9"/>
<circle cx="534.9" cy="1587" r="1.9"/>
<circle cx="531.9" cy="1593.9" r="1.9"/>
<circle cx="390.6" cy="1559.7" r="1.9"/>
<circle cx="392.6" cy="1563.7" r="1.9"/>
<circle cx="649.1" cy="1780.5" r="1.9"/>
<circle cx="644.8" cy="1779.1" r="1.9"/>
<circle cx="409.8" cy="1556" r="1.9"/>
<circle cx="420.5" cy="1584" r="1.9"/>
<circle cx="399.3" cy="1891.7" r="1.9"/>
<circle cx="407.2" cy="1873.9" r="1.9"/>
<circle cx="633.4" cy="1815.6" r="1.9"/>
<circle cx="618.4" cy="1817.3" r="1.9"/>
<circle cx="337.4" cy="1846.7" r="1.9"/>
<circle cx="334.6" cy="1836.6" r="1.9"/>
<circle cx="623.1" cy="1809.6" r="1.9"/>
<circle cx="616.6" cy="1805.8" r="1.9"/>
<circle cx="548.9" cy="1891.7" r="1.9"/>
<circle cx="552.2" cy="1876.9" r="1.9"/>
<circle cx="604.2" cy="1593.5" r="1.9"/>
<circle cx="601" cy="1596.7" r="1.9"/>
<circle cx="430.2" cy="1858.7" r="1.9"/>
<circle cx="432.5" cy="1851.5" r="1.9"/>
<circle cx="290.4" cy="1714" r="1.9"/>
<circle cx="294.8" cy="1714.2" r="1.9"/>
<circle cx="306" cy="1648.8" r="1.9"/>
<circle cx="330.7" cy="1659.7" r="1.9"/>
<circle cx="502.2" cy="1546.3" r="1.9"/>
<circle cx="498.7" cy="1568.5" r="1.9"/>
<circle cx="654.1" cy="1685.3" r="1.9"/>
<circle cx="649.7" cy="1686.3" r="1.9"/>
<circle cx="649.1" cy="1666.7" r="1.9"/>
<circle cx="641.7" cy="1659.3" r="1.9"/>
<circle cx="344" cy="1593.5" r="1.9"/>
<circle cx="347.2" cy="1596.7" r="1.9"/>
<circle cx="319.8" cy="1623.4" r="1.9"/>
<circle cx="325.1" cy="1637.6" r="1.9"/>
<circle cx="305.9" cy="1687.8" r="1.9"/>
<circle cx="327.9" cy="1692.5" r="1.9"/>
<circle cx="658.1" cy="1723.6" r="1.9"/>
<circle cx="645.9" cy="1714.6" r="1.9"/>
<circle cx="382.1" cy="1564.3" r="1.9"/>
<circle cx="391.8" cy="1581.1" r="1.9"/>
<circle cx="620.7" cy="1648.9" r="1.9"/>
<circle cx="617.5" cy="1659.7" r="1.9"/>
<circle cx="566.1" cy="1564.3" r="1.9"/>
<circle cx="552.6" cy="1587.6" r="1.9"/>
<circle cx="464.5" cy="1539.9" r="1.9"/>
<circle cx="464.7" cy="1544.3" r="1.9"/>
<circle cx="322.4" cy="1764.2" r="1.9"/>
<circle cx="329.7" cy="1762.3" r="1.9"/>
<circle cx="325.2" cy="1615.4" r="1.9"/>
<circle cx="336.1" cy="1634" r="1.9"/>
<circle cx="516.7" cy="1882.5" r="1.9"/>
<circle cx="514.7" cy="1875.3" r="1.9"/>
<circle cx="657.8" cy="1733.2" r="1.9"/>
<circle cx="638.4" cy="1732.2" r="1.9"/>
<circle cx="351" cy="1586.9" r="1.9"/>
<circle cx="359" cy="1595.8" r="1.9"/>
<circle cx="617.1" cy="1839.4" r="1.9"/>
<circle cx="613.6" cy="1836.6" r="1.9"/>
<circle cx="540" cy="1551.8" r="1.9"/>
<circle cx="535.7" cy="1563" r="1.9"/>
<circle cx="370.6" cy="1595.8" r="1.9"/>
<circle cx="375.3" cy="1601.6" r="1.9"/>
<circle cx="328.9" cy="1829.1" r="1.9"/>
<circle cx="341" cy="1820.3" r="1.9"/>
<circle cx="436.8" cy="1899.2" r="1.9"/>
<circle cx="439.9" cy="1884.5" r="1.9"/>
<circle cx="531" cy="1898.6" r="1.9"/>
<circle cx="529.6" cy="1894.3" r="1.9"/>
<circle cx="426.5" cy="1901.3" r="1.9"/>
<circle cx="427.6" cy="1897" r="1.9"/>
<circle cx="357.4" cy="1618.5" r="1.9"/>
<circle cx="363" cy="1623.6" r="1.9"/>
<circle cx="310.2" cy="1807.1" r="1.9"/>
<circle cx="337.5" cy="1784.4" r="1.9"/>
<circle cx="582.3" cy="1872.5" r="1.9"/>
<circle cx="579.6" cy="1868.8" r="1.9"/>
<circle cx="483.1" cy="1551.8" r="1.9"/>
<circle cx="482.7" cy="1559.3" r="1.9"/>
<circle cx="299.1" cy="1666.7" r="1.9"/>
<circle cx="310.5" cy="1670.4" r="1.9"/>
<circle cx="365.9" cy="1574.7" r="1.9"/>
<circle cx="368.6" cy="1578.4" r="1.9"/>
<circle cx="597.2" cy="1860.3" r="1.9"/>
<circle cx="589.2" cy="1851.4" r="1.9"/>
<circle cx="445.3" cy="1905.3" r="1.9"/>
<circle cx="446" cy="1900.9" r="1.9"/>
<circle cx="417.2" cy="1898.6" r="1.9"/>
<circle cx="431.5" cy="1882.5" r="1.9"/>
<circle cx="612.1" cy="1813.2" r="1.9"/>
<circle cx="605.8" cy="1809.1" r="1.9"/>
<circle cx="630.5" cy="1672.8" r="1.9"/>
<circle cx="623.4" cy="1675.1" r="1.9"/>
<circle cx="451.9" cy="1583.3" r="1.9"/>
<circle cx="453.1" cy="1590.8" r="1.9"/>
<circle cx="380.4" cy="1867.9" r="1.9"/>
<circle cx="388.6" cy="1855.3" r="1.9"/>
<circle cx="548.9" cy="1594.1" r="1.9"/>
<circle cx="545.1" cy="1600.6" r="1.9"/>
<circle cx="364" cy="1601.4" r="1.9"/>
<circle cx="369" cy="1606.9" r="1.9"/>
<circle cx="493.3" cy="1906.6" r="1.9"/>
<circle cx="492.1" cy="1894.7" r="1.9"/>
<circle cx="557.6" cy="1887.5" r="1.9"/>
<circle cx="555.6" cy="1883.5" r="1.9"/>
<circle cx="382.1" cy="1882.9" r="1.9"/>
<circle cx="384.4" cy="1879.1" r="1.9"/>
<circle cx="651.8" cy="1771.2" r="1.9"/>
<circle cx="647.5" cy="1770.1" r="1.9"/>
<circle cx="290.4" cy="1733.2" r="1.9"/>
<circle cx="294.8" cy="1733" r="1.9"/>
<circle cx="377.4" cy="1856.7" r="1.9"/>
<circle cx="386.2" cy="1844.5" r="1.9"/>
<circle cx="380" cy="1607.4" r="1.9"/>
<circle cx="384.7" cy="1613.2" r="1.9"/>
<circle cx="337.4" cy="1600.5" r="1.9"/>
<circle cx="340.7" cy="1603.5" r="1.9"/>
<circle cx="595.7" cy="1602" r="1.9"/>
<circle cx="590.4" cy="1607.3" r="1.9"/>
</g>
<circle cx="474.1" cy="1723.6" r="121.5" fill="#1f6fc6"/>
<circle cx="474.1" cy="1723.6" r="117.5" fill="#00aeef"/>
<text x="421.4" y="1713.3" font-size="42.4" font-family="'Liberation Sans',sans-serif" font-weight="700" fill="#ffffff" textLength="103.4" lengthAdjust="spacingAndGlyphs">TỔNG</text>
<text x="380.8" y="1763.6" font-size="42.4" font-family="'Liberation Sans',sans-serif" font-weight="700" fill="#ffffff" textLength="186.5" lengthAdjust="spacingAndGlyphs">GIÁM ĐỐC</text>
<polygon points="1100.4,1552.4 1112.4,1540.7 1481.3,1540.7 1521.7,1581.6 1594.1,1581.6 1609.6,1597.3 1609.6,1672.2 1597.1,1684.2 1112.4,1684.2 1100.4,1672.2" fill="#1d8ed8" fill-opacity=".35"/>
<polygon points="1107.5,1556 1116,1547.5 1478.5,1547.5 1518.8,1588.4 1591,1588.4 1602.8,1600.3 1602.8,1669.3 1594.3,1677.4 1116,1677.4 1107.5,1669.3" fill="url(#boxg)" fill-opacity=".92"/>
<polygon points="1100.4,1552.4 1112.4,1540.7 1481.3,1540.7 1521.7,1581.6 1594.1,1581.6 1609.6,1597.3 1609.6,1672.2 1597.1,1684.2 1112.4,1684.2 1100.4,1672.2" fill="none" stroke="#35d0ee" stroke-opacity=".35" stroke-width="5"/>
<polygon points="1100.4,1552.4 1112.4,1540.7 1481.3,1540.7 1521.7,1581.6 1594.1,1581.6 1609.6,1597.3 1609.6,1672.2 1597.1,1684.2 1112.4,1684.2 1100.4,1672.2" fill="none" stroke="#86e6f2" stroke-width="1.8"/>
<path d="M1189,1540.7 v8.5 M1189,1675.7 v8.5" stroke="#a5eef6" stroke-width="1.8"/>
<rect x="1395.7" y="1548.6" width="118.5" height="5.8" fill="#1cc3f4" fill-opacity=".85"/>
<rect x="1090" y="1552" width="5" height="1.6" fill="#34c9ea"/>
<rect x="1090" y="1558.3" width="5" height="1.6" fill="#34c9ea"/>
<rect x="1090" y="1564.6" width="5" height="1.6" fill="#34c9ea"/>
<rect x="1090" y="1570.9" width="5" height="1.6" fill="#34c9ea"/>
<rect x="1090" y="1577.2" width="5" height="1.6" fill="#34c9ea"/>
<rect x="1090" y="1583.5" width="5" height="1.6" fill="#34c9ea"/>
<rect x="1090" y="1589.8" width="5" height="1.6" fill="#34c9ea"/>
<rect x="1090" y="1596.1" width="5" height="1.6" fill="#34c9ea"/>
<rect x="1090" y="1602.4" width="5" height="1.6" fill="#34c9ea"/>
<rect x="1090" y="1608.7" width="5" height="1.6" fill="#34c9ea"/>
<path d="M1126.2,1689.7v13M1131.8,1689.7v13M1137.4,1689.7v13M1143,1689.7v13M1148.6,1689.7v13M1154.2,1689.7v13M1159.8,1689.7v13M1165.4,1689.7v13M1171,1689.7v13M1176.6,1689.7v13M1182.2,1689.7v13M1187.8,1689.7v13M1193.4,1689.7v13M1199,1689.7v13M1204.6,1689.7v13M1210.2,1689.7v13M1215.8,1689.7v13M1221.4,1689.7v13M1227,1689.7v13M1232.6,1689.7v13M1238.2,1689.7v13M1243.8,1689.7v13M1249.4,1689.7v13M1255,1689.7v13M1260.6,1689.7v13M1266.2,1689.7v13M1271.8,1689.7v13M1277.4,1689.7v13M1283,1689.7v13M1288.6,1689.7v13M1294.2,1689.7v13M1299.8,1689.7v13M1305.4,1689.7v13M1311,1689.7v13M1316.6,1689.7v13M1322.2,1689.7v13M1327.8,1689.7v13M1333.4,1689.7v13M1339,1689.7v13M1344.6,1689.7v13M1350.2,1689.7v13" stroke="#2b9ff0" stroke-width="2.6" stroke-opacity=".9"/>
<path d="M1356.3,1691 h142" stroke="#2b9ff0" stroke-width="1.8"/>
<path d="M1556.5,1689 l5.5,-17.5M1564.1,1689 l5.5,-17.5M1571.7,1689 l5.5,-17.5M1579.3,1689 l5.5,-17.5" stroke="#2fb4f0" stroke-width="1.6"/>
<text x="1255.2" y="1604.3" font-size="42.5" font-family="'Liberation Sans',sans-serif" font-weight="700" fill="#ffffff" textLength="200.4" lengthAdjust="spacingAndGlyphs" stroke="#ffffff" stroke-width="0.7">Các Ủy ban</text>
<text x="1234.7" y="1654.7" font-size="42.5" font-family="'Liberation Sans',sans-serif" font-weight="700" fill="#ffffff" textLength="240.8" lengthAdjust="spacingAndGlyphs" stroke="#ffffff" stroke-width="0.7">chuyên trách</text>
<polygon points="1679.4,1552.4 1691.4,1540.7 2060.3,1540.7 2100.7,1581.6 2173.1,1581.6 2188.6,1597.3 2188.6,1672.2 2176.1,1684.2 1691.4,1684.2 1679.4,1672.2" fill="#1d8ed8" fill-opacity=".35"/>
<polygon points="1686.5,1556 1695,1547.5 2057.5,1547.5 2097.8,1588.4 2170,1588.4 2181.8,1600.3 2181.8,1669.3 2173.3,1677.4 1695,1677.4 1686.5,1669.3" fill="url(#boxg)" fill-opacity=".92"/>
<polygon points="1679.4,1552.4 1691.4,1540.7 2060.3,1540.7 2100.7,1581.6 2173.1,1581.6 2188.6,1597.3 2188.6,1672.2 2176.1,1684.2 1691.4,1684.2 1679.4,1672.2" fill="none" stroke="#35d0ee" stroke-opacity=".35" stroke-width="5"/>
<polygon points="1679.4,1552.4 1691.4,1540.7 2060.3,1540.7 2100.7,1581.6 2173.1,1581.6 2188.6,1597.3 2188.6,1672.2 2176.1,1684.2 1691.4,1684.2 1679.4,1672.2" fill="none" stroke="#86e6f2" stroke-width="1.8"/>
<path d="M1768,1540.7 v8.5 M1768,1675.7 v8.5" stroke="#a5eef6" stroke-width="1.8"/>
<rect x="1974.7" y="1548.6" width="118.5" height="5.8" fill="#1cc3f4" fill-opacity=".85"/>
<rect x="1669" y="1552" width="5" height="1.6" fill="#34c9ea"/>
<rect x="1669" y="1558.3" width="5" height="1.6" fill="#34c9ea"/>
<rect x="1669" y="1564.6" width="5" height="1.6" fill="#34c9ea"/>
<rect x="1669" y="1570.9" width="5" height="1.6" fill="#34c9ea"/>
<rect x="1669" y="1577.2" width="5" height="1.6" fill="#34c9ea"/>
<rect x="1669" y="1583.5" width="5" height="1.6" fill="#34c9ea"/>
<rect x="1669" y="1589.8" width="5" height="1.6" fill="#34c9ea"/>
<rect x="1669" y="1596.1" width="5" height="1.6" fill="#34c9ea"/>
<rect x="1669" y="1602.4" width="5" height="1.6" fill="#34c9ea"/>
<rect x="1669" y="1608.7" width="5" height="1.6" fill="#34c9ea"/>
<path d="M1705.2,1689.7v13M1710.8,1689.7v13M1716.4,1689.7v13M1722,1689.7v13M1727.6,1689.7v13M1733.2,1689.7v13M1738.8,1689.7v13M1744.4,1689.7v13M1750,1689.7v13M1755.6,1689.7v13M1761.2,1689.7v13M1766.8,1689.7v13M1772.4,1689.7v13M1778,1689.7v13M1783.6,1689.7v13M1789.2,1689.7v13M1794.8,1689.7v13M1800.4,1689.7v13M1806,1689.7v13M1811.6,1689.7v13M1817.2,1689.7v13M1822.8,1689.7v13M1828.4,1689.7v13M1834,1689.7v13M1839.6,1689.7v13M1845.2,1689.7v13M1850.8,1689.7v13M1856.4,1689.7v13M1862,1689.7v13M1867.6,1689.7v13M1873.2,1689.7v13M1878.8,1689.7v13M1884.4,1689.7v13M1890,1689.7v13M1895.6,1689.7v13M1901.2,1689.7v13M1906.8,1689.7v13M1912.4,1689.7v13M1918,1689.7v13M1923.6,1689.7v13M1929.2,1689.7v13" stroke="#2b9ff0" stroke-width="2.6" stroke-opacity=".9"/>
<path d="M1935.3,1691 h142" stroke="#2b9ff0" stroke-width="1.8"/>
<path d="M2135.5,1689 l5.5,-17.5M2143.1,1689 l5.5,-17.5M2150.7,1689 l5.5,-17.5M2158.3,1689 l5.5,-17.5" stroke="#2fb4f0" stroke-width="1.6"/>
<text x="1836.3" y="1604.3" font-size="42.5" font-family="'Liberation Sans',sans-serif" font-weight="700" fill="#ffffff" textLength="193" lengthAdjust="spacingAndGlyphs" stroke="#ffffff" stroke-width="0.7">Văn phòng</text>
<text x="1773" y="1654.7" font-size="42.5" font-family="'Liberation Sans',sans-serif" font-weight="700" fill="#ffffff" textLength="320.6" lengthAdjust="spacingAndGlyphs" stroke="#ffffff" stroke-width="0.7">Hội đồng quản trị</text>
<use href="#dot" x="1356" y="1539.5"/>
<use href="#dot" x="1931.5" y="1539.5"/>
<path d="M555.5,2029.4 H1274.4 M555.5,2104.2 H1274.4" stroke="#22c6ea" stroke-opacity=".3" stroke-width="8" fill="none"/>
<g fill="none" stroke="#6fe0ee" stroke-width="1.5">
<path d="M555.5,2027.8 H1274.4"/>
<path d="M555.5,2102.6 H1274.4"/>
<path d="M555.5,2031 H1274.4"/>
<path d="M555.5,2105.8 H1274.4"/>
<path d="M539.4,2030.7 L526.5,2043.2 L526.5,2068.4 L523.2,2076 L523.2,2103 M542.6,2033.6 L531,2045.2 L531,2069.7 L527.8,2076.2 L527.8,2099.4 L548.4,2099.4 L554.2,2104.5 M519.4,2094.9 L519.4,2107.8 L542.6,2107.8"/>
<path d="M539.4,2030.7 L526.5,2043.2 L526.5,2068.4 L523.2,2076 L523.2,2103 M542.6,2033.6 L531,2045.2 L531,2069.7 L527.8,2076.2 L527.8,2099.4 L548.4,2099.4 L554.2,2104.5 M519.4,2094.9 L519.4,2107.8 L542.6,2107.8" transform="rotate(180 915 2066.8)"/>
</g>
<text x="748.4" y="2085" font-size="41.5" font-family="'Liberation Sans',sans-serif" font-weight="700" fill="#ffffff" textLength="352.4" lengthAdjust="spacingAndGlyphs" stroke="#ffffff" stroke-width="0.7">Ban Trợ lý - Thư ký</text>
<use href="#dot" x="924.6" y="2022"/>
<path d="M1434.5,2029.4 H2152.6 M1434.5,2104.2 H2152.6" stroke="#22c6ea" stroke-opacity=".3" stroke-width="8" fill="none"/>
<g fill="none" stroke="#6fe0ee" stroke-width="1.5">
<path d="M1434.5,2027.8 H2152.6"/>
<path d="M1434.5,2102.6 H2152.6"/>
<path d="M1434.5,2031 H2152.6"/>
<path d="M1434.5,2105.8 H2152.6"/>
<path d="M1418.4,2030.7 L1405.5,2043.2 L1405.5,2068.4 L1402.2,2076 L1402.2,2103 M1421.6,2033.6 L1410,2045.2 L1410,2069.7 L1406.8,2076.2 L1406.8,2099.4 L1427.4,2099.4 L1433.2,2104.5 M1398.4,2094.9 L1398.4,2107.8 L1421.6,2107.8"/>
<path d="M1418.4,2030.7 L1405.5,2043.2 L1405.5,2068.4 L1402.2,2076 L1402.2,2103 M1421.6,2033.6 L1410,2045.2 L1410,2069.7 L1406.8,2076.2 L1406.8,2099.4 L1427.4,2099.4 L1433.2,2104.5 M1398.4,2094.9 L1398.4,2107.8 L1421.6,2107.8" transform="rotate(180 1793.6 2066.8)"/>
</g>
<text x="1436.7" y="2085" font-size="41.5" font-family="'Liberation Sans',sans-serif" font-weight="700" fill="#ffffff" textLength="704.7" lengthAdjust="spacingAndGlyphs" stroke="#ffffff" stroke-width="0.7">Trung tâm Truyền thông và Marketing</text>
<use href="#dot" x="1785" y="2022"/>
<path d="M2695.9,2029.4 H3414.1 M2695.9,2104.2 H3414.1" stroke="#22c6ea" stroke-opacity=".3" stroke-width="8" fill="none"/>
<g fill="none" stroke="#6fe0ee" stroke-width="1.5">
<path d="M2695.9,2027.8 H3414.1"/>
<path d="M2695.9,2102.6 H3414.1"/>
<path d="M2695.9,2031 H3414.1"/>
<path d="M2695.9,2105.8 H3414.1"/>
<path d="M2679.8,2030.7 L2666.9,2043.2 L2666.9,2068.4 L2663.6,2076 L2663.6,2103 M2683,2033.6 L2671.4,2045.2 L2671.4,2069.7 L2668.2,2076.2 L2668.2,2099.4 L2688.8,2099.4 L2694.6,2104.5 M2659.8,2094.9 L2659.8,2107.8 L2683,2107.8"/>
<path d="M2679.8,2030.7 L2666.9,2043.2 L2666.9,2068.4 L2663.6,2076 L2663.6,2103 M2683,2033.6 L2671.4,2045.2 L2671.4,2069.7 L2668.2,2076.2 L2668.2,2099.4 L2688.8,2099.4 L2694.6,2104.5 M2659.8,2094.9 L2659.8,2107.8 L2683,2107.8" transform="rotate(180 3055.1 2066.8)"/>
</g>
<text x="2691.4" y="2085" font-size="41.5" font-family="'Liberation Sans',sans-serif" font-weight="700" fill="#ffffff" textLength="729.6" lengthAdjust="spacingAndGlyphs" stroke="#ffffff" stroke-width="0.7">Ban Kiểm tra nội bộ và Giám đốc lưu động</text>
<use href="#dot" x="3051.6" y="2022"/>
<use href="#dot" x="778.8" y="2315.6"/>
<use href="#dot" x="778.8" y="2387"/>
<use href="#dot" x="1355.6" y="2315.6"/>
<use href="#dot" x="1355.6" y="2387"/>
<use href="#dot" x="1932.1" y="2315.6"/>
<use href="#dot" x="1932.1" y="2387"/>
<use href="#dot" x="2907.5" y="2315.6"/>
<use href="#dot" x="2907.5" y="2387"/>
<use href="#dot" x="3488.4" y="2315.6"/>
<use href="#dot" x="3488.4" y="2387"/>
<use href="#dot" x="4059.2" y="2315.6"/>
<use href="#dot" x="4059.2" y="2387"/>
<polygon points="527.2,2215.5 546.2,2196.5 1031.4,2196.5 1031.4,2277.1 1006.4,2302.1 527.2,2302.1" fill="#ffffff"/>
<path d="M726.3,2216.1 L713.3,2202.1 L549.7,2202.1 L533.2,2219.1 L533.2,2296.3 L1003.8,2296.3 L1025.8,2275.3 L1025.8,2202.1 L840.3,2202.1 L826.8,2216.1" fill="none" stroke="#1565c0" stroke-width="1.2"/>
<circle cx="727.8" cy="2217.8" r="2.1" fill="#fff" stroke="#1565c0" stroke-width="1.2"/>
<circle cx="825.3" cy="2217.8" r="2.1" fill="#fff" stroke="#1565c0" stroke-width="1.2"/>
<text x="741.8" y="2244.2" font-size="33.5" font-family="'Liberation Sans',sans-serif" font-weight="700" fill="#0b4da2" textLength="74" lengthAdjust="spacingAndGlyphs">KHỐI</text>
<text x="709.8" y="2281.3" font-size="33.5" font-family="'Liberation Sans',sans-serif" font-weight="700" fill="#0b4da2" textLength="138" lengthAdjust="spacingAndGlyphs">CÁ NHÂN</text>
<polygon points="527.2,2418.2 546.2,2399.2 1031.4,2399.2 1031.4,2479.8 1006.4,2504.8 527.2,2504.8" fill="#ffffff"/>
<path d="M726.3,2418.8 L713.3,2404.8 L549.7,2404.8 L533.2,2421.8 L533.2,2499 L1003.8,2499 L1025.8,2478 L1025.8,2404.8 L840.3,2404.8 L826.8,2418.8" fill="none" stroke="#1565c0" stroke-width="1.2"/>
<circle cx="727.8" cy="2420.5" r="2.1" fill="#fff" stroke="#1565c0" stroke-width="1.2"/>
<circle cx="825.3" cy="2420.5" r="2.1" fill="#fff" stroke="#1565c0" stroke-width="1.2"/>
<text x="741.8" y="2446.9" font-size="33.5" font-family="'Liberation Sans',sans-serif" font-weight="700" fill="#0b4da2" textLength="74" lengthAdjust="spacingAndGlyphs">KHỐI</text>
<text x="660.8" y="2484" font-size="33.5" font-family="'Liberation Sans',sans-serif" font-weight="700" fill="#0b4da2" textLength="236" lengthAdjust="spacingAndGlyphs">DOANH NGHIỆP</text>
<polygon points="1103.8,2215.5 1122.8,2196.5 1608,2196.5 1608,2277.1 1583,2302.1 1103.8,2302.1" fill="#ffffff"/>
<path d="M1302.9,2216.1 L1289.9,2202.1 L1126.3,2202.1 L1109.8,2219.1 L1109.8,2296.3 L1580.4,2296.3 L1602.4,2275.3 L1602.4,2202.1 L1416.9,2202.1 L1403.4,2216.1" fill="none" stroke="#1565c0" stroke-width="1.2"/>
<circle cx="1304.4" cy="2217.8" r="2.1" fill="#fff" stroke="#1565c0" stroke-width="1.2"/>
<circle cx="1401.9" cy="2217.8" r="2.1" fill="#fff" stroke="#1565c0" stroke-width="1.2"/>
<text x="1319.4" y="2244.2" font-size="33.5" font-family="'Liberation Sans',sans-serif" font-weight="700" fill="#0b4da2" textLength="72" lengthAdjust="spacingAndGlyphs">KHỐI</text>
<text x="1125.7" y="2281.3" font-size="33.5" font-family="'Liberation Sans',sans-serif" font-weight="700" fill="#0b4da2" textLength="459.5" lengthAdjust="spacingAndGlyphs">THỊ TRƯỜNG VỐN VÀ NGOẠI HỐI</text>
<polygon points="1103.8,2418.2 1122.8,2399.2 1608,2399.2 1608,2479.8 1583,2504.8 1103.8,2504.8" fill="#ffffff"/>
<path d="M1302.9,2418.8 L1289.9,2404.8 L1126.3,2404.8 L1109.8,2421.8 L1109.8,2499 L1580.4,2499 L1602.4,2478 L1602.4,2404.8 L1416.9,2404.8 L1403.4,2418.8" fill="none" stroke="#1565c0" stroke-width="1.2"/>
<circle cx="1304.4" cy="2420.5" r="2.1" fill="#fff" stroke="#1565c0" stroke-width="1.2"/>
<circle cx="1401.9" cy="2420.5" r="2.1" fill="#fff" stroke="#1565c0" stroke-width="1.2"/>
<text x="1319.4" y="2446.9" font-size="33.5" font-family="'Liberation Sans',sans-serif" font-weight="700" fill="#0b4da2" textLength="72" lengthAdjust="spacingAndGlyphs">KHỐI</text>
<text x="1278.2" y="2484" font-size="33.5" font-family="'Liberation Sans',sans-serif" font-weight="700" fill="#0b4da2" textLength="154.4" lengthAdjust="spacingAndGlyphs">VẬN HÀNH</text>
<polygon points="1680.4,2215.5 1699.4,2196.5 2184.6,2196.5 2184.6,2277.1 2159.6,2302.1 1680.4,2302.1" fill="#ffffff"/>
<path d="M1879.5,2216.1 L1866.5,2202.1 L1702.9,2202.1 L1686.4,2219.1 L1686.4,2296.3 L2157,2296.3 L2179,2275.3 L2179,2202.1 L1993.5,2202.1 L1980,2216.1" fill="none" stroke="#1565c0" stroke-width="1.2"/>
<circle cx="1881" cy="2217.8" r="2.1" fill="#fff" stroke="#1565c0" stroke-width="1.2"/>
<circle cx="1978.5" cy="2217.8" r="2.1" fill="#fff" stroke="#1565c0" stroke-width="1.2"/>
<text x="1896" y="2244.2" font-size="33.5" font-family="'Liberation Sans',sans-serif" font-weight="700" fill="#0b4da2" textLength="72" lengthAdjust="spacingAndGlyphs">KHỐI</text>
<text x="1858.8" y="2281.3" font-size="33.5" font-family="'Liberation Sans',sans-serif" font-weight="700" fill="#0b4da2" textLength="146.5" lengthAdjust="spacingAndGlyphs">TÀI CHÍNH</text>
<polygon points="1680.4,2418.2 1699.4,2399.2 2184.6,2399.2 2184.6,2479.8 2159.6,2504.8 1680.4,2504.8" fill="#ffffff"/>
<path d="M1879.5,2418.8 L1866.5,2404.8 L1702.9,2404.8 L1686.4,2421.8 L1686.4,2499 L2157,2499 L2179,2478 L2179,2404.8 L1993.5,2404.8 L1980,2418.8" fill="none" stroke="#1565c0" stroke-width="1.2"/>
<circle cx="1881" cy="2420.5" r="2.1" fill="#fff" stroke="#1565c0" stroke-width="1.2"/>
<circle cx="1978.5" cy="2420.5" r="2.1" fill="#fff" stroke="#1565c0" stroke-width="1.2"/>
<text x="1896" y="2446.9" font-size="33.5" font-family="'Liberation Sans',sans-serif" font-weight="700" fill="#0b4da2" textLength="72" lengthAdjust="spacingAndGlyphs">KHỐI</text>
<text x="1877.5" y="2484" font-size="33.5" font-family="'Liberation Sans',sans-serif" font-weight="700" fill="#0b4da2" textLength="109" lengthAdjust="spacingAndGlyphs">HỖ TRỢ</text>
<polygon points="2660.2,2215.5 2679.2,2196.5 3164.4,2196.5 3164.4,2277.1 3139.4,2302.1 2660.2,2302.1" fill="#ffffff"/>
<path d="M2807.8,2216.1 L2794.8,2202.1 L2682.7,2202.1 L2666.2,2219.1 L2666.2,2296.3 L3136.8,2296.3 L3158.8,2275.3 L3158.8,2202.1 L3024.3,2202.1 L3010.8,2216.1" fill="none" stroke="#1565c0" stroke-width="1.2"/>
<circle cx="2809.3" cy="2217.8" r="2.1" fill="#fff" stroke="#1565c0" stroke-width="1.2"/>
<circle cx="3009.3" cy="2217.8" r="2.1" fill="#fff" stroke="#1565c0" stroke-width="1.2"/>
<text x="2822.8" y="2244.2" font-size="33.5" font-family="'Liberation Sans',sans-serif" font-weight="700" fill="#0b4da2" textLength="178" lengthAdjust="spacingAndGlyphs">TRUNG TÂM</text>
<text x="2747.8" y="2281.3" font-size="33.5" font-family="'Liberation Sans',sans-serif" font-weight="700" fill="#0b4da2" textLength="328" lengthAdjust="spacingAndGlyphs">CHUYỂN ĐỔI SỐ (DTC)</text>
<polygon points="2660.2,2418.2 2679.2,2399.2 3164.4,2399.2 3164.4,2479.8 3139.4,2504.8 2660.2,2504.8" fill="#ffffff"/>
<path d="M2859.3,2418.8 L2846.3,2404.8 L2682.7,2404.8 L2666.2,2421.8 L2666.2,2499 L3136.8,2499 L3158.8,2478 L3158.8,2404.8 L2973.3,2404.8 L2959.8,2418.8" fill="none" stroke="#1565c0" stroke-width="1.2"/>
<circle cx="2860.8" cy="2420.5" r="2.1" fill="#fff" stroke="#1565c0" stroke-width="1.2"/>
<circle cx="2958.3" cy="2420.5" r="2.1" fill="#fff" stroke="#1565c0" stroke-width="1.2"/>
<text x="2874.8" y="2446.9" font-size="33.5" font-family="'Liberation Sans',sans-serif" font-weight="700" fill="#0b4da2" textLength="74" lengthAdjust="spacingAndGlyphs">KHỐI</text>
<text x="2732.8" y="2484" font-size="33.5" font-family="'Liberation Sans',sans-serif" font-weight="700" fill="#0b4da2" textLength="358" lengthAdjust="spacingAndGlyphs">CÔNG NGHỆ THÔNG TIN</text>
<polygon points="3236.6,2215.5 3255.6,2196.5 3740.8,2196.5 3740.8,2277.1 3715.8,2302.1 3236.6,2302.1" fill="#ffffff"/>
<path d="M3435.7,2216.1 L3422.7,2202.1 L3259.1,2202.1 L3242.6,2219.1 L3242.6,2296.3 L3713.2,2296.3 L3735.2,2275.3 L3735.2,2202.1 L3549.7,2202.1 L3536.2,2216.1" fill="none" stroke="#1565c0" stroke-width="1.2"/>
<circle cx="3437.2" cy="2217.8" r="2.1" fill="#fff" stroke="#1565c0" stroke-width="1.2"/>
<circle cx="3534.7" cy="2217.8" r="2.1" fill="#fff" stroke="#1565c0" stroke-width="1.2"/>
<text x="3451.2" y="2244.2" font-size="33.5" font-family="'Liberation Sans',sans-serif" font-weight="700" fill="#0b4da2" textLength="74" lengthAdjust="spacingAndGlyphs">KHỐI</text>
<text x="3276.2" y="2281.3" font-size="33.5" font-family="'Liberation Sans',sans-serif" font-weight="700" fill="#0b4da2" textLength="424" lengthAdjust="spacingAndGlyphs">QUẢN TRỊ NGUỒN NHÂN LỰC</text>
<polygon points="3236.6,2418.2 3255.6,2399.2 3740.8,2399.2 3740.8,2479.8 3715.8,2504.8 3236.6,2504.8" fill="#ffffff"/>
<path d="M3435.7,2418.8 L3422.7,2404.8 L3259.1,2404.8 L3242.6,2421.8 L3242.6,2499 L3713.2,2499 L3735.2,2478 L3735.2,2404.8 L3549.7,2404.8 L3536.2,2418.8" fill="none" stroke="#1565c0" stroke-width="1.2"/>
<circle cx="3437.2" cy="2420.5" r="2.1" fill="#fff" stroke="#1565c0" stroke-width="1.2"/>
<circle cx="3534.7" cy="2420.5" r="2.1" fill="#fff" stroke="#1565c0" stroke-width="1.2"/>
<text x="3451.2" y="2446.9" font-size="33.5" font-family="'Liberation Sans',sans-serif" font-weight="700" fill="#0b4da2" textLength="74" lengthAdjust="spacingAndGlyphs">KHỐI</text>
<text x="3416.2" y="2484" font-size="33.5" font-family="'Liberation Sans',sans-serif" font-weight="700" fill="#0b4da2" textLength="144" lengthAdjust="spacingAndGlyphs">TÍN DỤNG</text>
<polygon points="3813,2215.5 3832,2196.5 4317.2,2196.5 4317.2,2277.1 4292.2,2302.1 3813,2302.1" fill="#ffffff"/>
<path d="M4012.1,2216.1 L3999.1,2202.1 L3835.5,2202.1 L3819,2219.1 L3819,2296.3 L4289.6,2296.3 L4311.6,2275.3 L4311.6,2202.1 L4126.1,2202.1 L4112.6,2216.1" fill="none" stroke="#1565c0" stroke-width="1.2"/>
<circle cx="4013.6" cy="2217.8" r="2.1" fill="#fff" stroke="#1565c0" stroke-width="1.2"/>
<circle cx="4111.1" cy="2217.8" r="2.1" fill="#fff" stroke="#1565c0" stroke-width="1.2"/>
<text x="4027.6" y="2244.2" font-size="33.5" font-family="'Liberation Sans',sans-serif" font-weight="700" fill="#0b4da2" textLength="74" lengthAdjust="spacingAndGlyphs">KHỐI</text>
<text x="3948.1" y="2281.3" font-size="33.5" font-family="'Liberation Sans',sans-serif" font-weight="700" fill="#0b4da2" textLength="233" lengthAdjust="spacingAndGlyphs">QUẢN LÝ RỦI RO</text>
<polygon points="3813,2418.2 3832,2399.2 4317.2,2399.2 4317.2,2479.8 4292.2,2504.8 3813,2504.8" fill="#ffffff"/>
<path d="M4012.1,2418.8 L3999.1,2404.8 L3835.5,2404.8 L3819,2421.8 L3819,2499 L4289.6,2499 L4311.6,2478 L4311.6,2404.8 L4126.1,2404.8 L4112.6,2418.8" fill="none" stroke="#1565c0" stroke-width="1.2"/>
<circle cx="4013.6" cy="2420.5" r="2.1" fill="#fff" stroke="#1565c0" stroke-width="1.2"/>
<circle cx="4111.1" cy="2420.5" r="2.1" fill="#fff" stroke="#1565c0" stroke-width="1.2"/>
<text x="4027.6" y="2446.9" font-size="33.5" font-family="'Liberation Sans',sans-serif" font-weight="700" fill="#0b4da2" textLength="74" lengthAdjust="spacingAndGlyphs">KHỐI</text>
<text x="3996.6" y="2484" font-size="33.5" font-family="'Liberation Sans',sans-serif" font-weight="700" fill="#0b4da2" textLength="136" lengthAdjust="spacingAndGlyphs">XỬ LÝ NỢ</text>
<path d="M779,2750.2 L779,2788 L641.5,2788 L641.5,2822" fill="none" stroke="#17c0ea" stroke-opacity=".07" stroke-width="16" stroke-linecap="round" stroke-linejoin="round"/>
<path d="M779,2750.2 L779,2788 L641.5,2788 L641.5,2822" fill="none" stroke="#17c0ea" stroke-opacity=".2" stroke-width="10" stroke-linecap="round" stroke-linejoin="round"/>
<path d="M779,2750.2 L779,2788 L641.5,2788 L641.5,2822" fill="none" stroke="#17c0ea" stroke-opacity=".36" stroke-width="5.5" stroke-linejoin="round"/>
<path d="M779,2750.2 L779,2788 L641.5,2788 L641.5,2822" fill="none" stroke="#17c0ea" stroke-opacity=".62" stroke-width="2.8" stroke-linejoin="round"/>
<path d="M779,2750.2 L779,2788 L641.5,2788 L641.5,2822" fill="none" stroke="#aeeef2" stroke-width="1.1" stroke-linejoin="round"/>
<path d="M779,2788 L931,2788 L931,2822" fill="none" stroke="#17c0ea" stroke-opacity=".07" stroke-width="16" stroke-linecap="round" stroke-linejoin="round"/>
<path d="M779,2788 L931,2788 L931,2822" fill="none" stroke="#17c0ea" stroke-opacity=".2" stroke-width="10" stroke-linecap="round" stroke-linejoin="round"/>
<path d="M779,2788 L931,2788 L931,2822" fill="none" stroke="#17c0ea" stroke-opacity=".36" stroke-width="5.5" stroke-linejoin="round"/>
<path d="M779,2788 L931,2788 L931,2822" fill="none" stroke="#17c0ea" stroke-opacity=".62" stroke-width="2.8" stroke-linejoin="round"/>
<path d="M779,2788 L931,2788 L931,2822" fill="none" stroke="#aeeef2" stroke-width="1.1" stroke-linejoin="round"/>
<path d="M1645,2750.2 L1645,2787.3 L1505.5,2787.3 L1505.5,2822" fill="none" stroke="#17c0ea" stroke-opacity=".07" stroke-width="16" stroke-linecap="round" stroke-linejoin="round"/>
<path d="M1645,2750.2 L1645,2787.3 L1505.5,2787.3 L1505.5,2822" fill="none" stroke="#17c0ea" stroke-opacity=".2" stroke-width="10" stroke-linecap="round" stroke-linejoin="round"/>
<path d="M1645,2750.2 L1645,2787.3 L1505.5,2787.3 L1505.5,2822" fill="none" stroke="#17c0ea" stroke-opacity=".36" stroke-width="5.5" stroke-linejoin="round"/>
<path d="M1645,2750.2 L1645,2787.3 L1505.5,2787.3 L1505.5,2822" fill="none" stroke="#17c0ea" stroke-opacity=".62" stroke-width="2.8" stroke-linejoin="round"/>
<path d="M1645,2750.2 L1645,2787.3 L1505.5,2787.3 L1505.5,2822" fill="none" stroke="#aeeef2" stroke-width="1.1" stroke-linejoin="round"/>
<path d="M1645,2787.3 L1794.6,2787.3 L1794.6,2822" fill="none" stroke="#17c0ea" stroke-opacity=".07" stroke-width="16" stroke-linecap="round" stroke-linejoin="round"/>
<path d="M1645,2787.3 L1794.6,2787.3 L1794.6,2822" fill="none" stroke="#17c0ea" stroke-opacity=".2" stroke-width="10" stroke-linecap="round" stroke-linejoin="round"/>
<path d="M1645,2787.3 L1794.6,2787.3 L1794.6,2822" fill="none" stroke="#17c0ea" stroke-opacity=".36" stroke-width="5.5" stroke-linejoin="round"/>
<path d="M1645,2787.3 L1794.6,2787.3 L1794.6,2822" fill="none" stroke="#17c0ea" stroke-opacity=".62" stroke-width="2.8" stroke-linejoin="round"/>
<path d="M1645,2787.3 L1794.6,2787.3 L1794.6,2822" fill="none" stroke="#aeeef2" stroke-width="1.1" stroke-linejoin="round"/>
<path d="M2908.5,2750.2 L2908.5,2788.5" fill="none" stroke="#17c0ea" stroke-opacity=".07" stroke-width="16" stroke-linecap="round" stroke-linejoin="round"/>
<path d="M2908.5,2750.2 L2908.5,2788.5" fill="none" stroke="#17c0ea" stroke-opacity=".2" stroke-width="10" stroke-linecap="round" stroke-linejoin="round"/>
<path d="M2908.5,2750.2 L2908.5,2788.5" fill="none" stroke="#17c0ea" stroke-opacity=".36" stroke-width="5.5" stroke-linejoin="round"/>
<path d="M2908.5,2750.2 L2908.5,2788.5" fill="none" stroke="#17c0ea" stroke-opacity=".62" stroke-width="2.8" stroke-linejoin="round"/>
<path d="M2908.5,2750.2 L2908.5,2788.5" fill="none" stroke="#aeeef2" stroke-width="1.1" stroke-linejoin="round"/>
<path d="M2770.4,2822 L2770.4,2788.5 L3638.5,2788.5 L3638.5,2822" fill="none" stroke="#17c0ea" stroke-opacity=".07" stroke-width="16" stroke-linecap="round" stroke-linejoin="round"/>
<path d="M2770.4,2822 L2770.4,2788.5 L3638.5,2788.5 L3638.5,2822" fill="none" stroke="#17c0ea" stroke-opacity=".2" stroke-width="10" stroke-linecap="round" stroke-linejoin="round"/>
<path d="M2770.4,2822 L2770.4,2788.5 L3638.5,2788.5 L3638.5,2822" fill="none" stroke="#17c0ea" stroke-opacity=".36" stroke-width="5.5" stroke-linejoin="round"/>
<path d="M2770.4,2822 L2770.4,2788.5 L3638.5,2788.5 L3638.5,2822" fill="none" stroke="#17c0ea" stroke-opacity=".62" stroke-width="2.8" stroke-linejoin="round"/>
<path d="M2770.4,2822 L2770.4,2788.5 L3638.5,2788.5 L3638.5,2822" fill="none" stroke="#aeeef2" stroke-width="1.1" stroke-linejoin="round"/>
<path d="M3058.5,2788.5 L3058.5,2822" fill="none" stroke="#17c0ea" stroke-opacity=".07" stroke-width="16" stroke-linecap="round" stroke-linejoin="round"/>
<path d="M3058.5,2788.5 L3058.5,2822" fill="none" stroke="#17c0ea" stroke-opacity=".2" stroke-width="10" stroke-linecap="round" stroke-linejoin="round"/>
<path d="M3058.5,2788.5 L3058.5,2822" fill="none" stroke="#17c0ea" stroke-opacity=".36" stroke-width="5.5" stroke-linejoin="round"/>
<path d="M3058.5,2788.5 L3058.5,2822" fill="none" stroke="#17c0ea" stroke-opacity=".62" stroke-width="2.8" stroke-linejoin="round"/>
<path d="M3058.5,2788.5 L3058.5,2822" fill="none" stroke="#aeeef2" stroke-width="1.1" stroke-linejoin="round"/>
<path d="M3348.7,2788.5 L3348.7,2822" fill="none" stroke="#17c0ea" stroke-opacity=".07" stroke-width="16" stroke-linecap="round" stroke-linejoin="round"/>
<path d="M3348.7,2788.5 L3348.7,2822" fill="none" stroke="#17c0ea" stroke-opacity=".2" stroke-width="10" stroke-linecap="round" stroke-linejoin="round"/>
<path d="M3348.7,2788.5 L3348.7,2822" fill="none" stroke="#17c0ea" stroke-opacity=".36" stroke-width="5.5" stroke-linejoin="round"/>
<path d="M3348.7,2788.5 L3348.7,2822" fill="none" stroke="#17c0ea" stroke-opacity=".62" stroke-width="2.8" stroke-linejoin="round"/>
<path d="M3348.7,2788.5 L3348.7,2822" fill="none" stroke="#aeeef2" stroke-width="1.1" stroke-linejoin="round"/>
<path d="M1031.8,2896.6 H1103.2" stroke="#b9d4f4" stroke-width="1.3" stroke-opacity=".9"/>
<use href="#dot" x="779" y="2654.8"/>
<path d="M749,2665.2 L547.5,2665.2 L526.5,2686.2 L526.5,2750.2 L1005.2,2750.2 L1031.2,2724.2 L1031.2,2665.2 L808,2665.2" fill="none" stroke="#e3edf9" stroke-opacity=".9" stroke-width="1.4"/>
<polygon points="532.8,2686.7 548.3,2671.2 1024.9,2671.2 1024.9,2723.5 1004.4,2744 532.8,2744" fill="#ffffff"/>
<path d="M524.9,2712.2 V2751.4 H577.5" fill="none" stroke="#ffffff" stroke-width="1.8"/>
<text x="702.8" y="2723.3" font-size="42.5" font-family="'Liberation Sans',sans-serif" font-weight="700" fill="#0b68c3" textLength="171" lengthAdjust="spacingAndGlyphs" stroke="#0b68c3" stroke-width="0.6">KHU VỰC</text>
<use href="#dot" x="1645" y="2654.8"/>
<path d="M1615,2665.2 L1413.6,2665.2 L1392.6,2686.2 L1392.6,2750.2 L1871.3,2750.2 L1897.3,2724.2 L1897.3,2665.2 L1674,2665.2" fill="none" stroke="#e3edf9" stroke-opacity=".9" stroke-width="1.4"/>
<polygon points="1398.9,2686.7 1414.4,2671.2 1891,2671.2 1891,2723.5 1870.5,2744 1398.9,2744" fill="#ffffff"/>
<path d="M1391,2712.2 V2751.4 H1443.6" fill="none" stroke="#ffffff" stroke-width="1.8"/>
<text x="1493.3" y="2723.3" font-size="42.5" font-family="'Liberation Sans',sans-serif" font-weight="700" fill="#0b68c3" textLength="321.4" lengthAdjust="spacingAndGlyphs" stroke="#0b68c3" stroke-width="0.6">NGÂN HÀNG CON</text>
<use href="#dot" x="2908.5" y="2654.8"/>
<path d="M2878.5,2665.2 L2680.4,2665.2 L2659.4,2686.2 L2659.4,2750.2 L3138.4,2750.2 L3164.4,2724.2 L3164.4,2665.2 L2937.5,2665.2" fill="none" stroke="#e3edf9" stroke-opacity=".9" stroke-width="1.4"/>
<polygon points="2665.7,2686.7 2681.2,2671.2 3158.1,2671.2 3158.1,2723.5 3137.6,2744 2665.7,2744" fill="#ffffff"/>
<path d="M2657.8,2712.2 V2751.4 H2710.4" fill="none" stroke="#ffffff" stroke-width="1.8"/>
<text x="2793.6" y="2723.3" font-size="42.5" font-family="'Liberation Sans',sans-serif" font-weight="700" fill="#0b68c3" textLength="254.6" lengthAdjust="spacingAndGlyphs" stroke="#0b68c3" stroke-width="0.6">CÔNG TY CON</text>
<use href="#dot" x="641" y="2836.7"/>
<polygon points="526.5,2865.6 547.5,2844.6 742.5,2844.6 742.5,2937.2 716.5,2963.2 526.5,2963.2" fill="none" stroke="#e3edf9" stroke-opacity=".9" stroke-width="1.4"/>
<polygon points="532.8,2866.1 548.3,2850.6 736.2,2850.6 736.2,2936.5 715.7,2957 532.8,2957" fill="#03aef0"/>
<path d="M524.9,2925.2 V2964.4 H577.5" fill="none" stroke="#ffffff" stroke-width="1.8"/>
<text x="570.5" y="2895" font-size="40.5" font-family="'Liberation Sans',sans-serif" font-weight="400" fill="#ffffff" textLength="125.5" lengthAdjust="spacingAndGlyphs" stroke="#03aef0" stroke-width=".7">Văn phòng</text>
<text x="586.5" y="2945" font-size="40.5" font-family="'Liberation Sans',sans-serif" font-weight="400" fill="#ffffff" textLength="94" lengthAdjust="spacingAndGlyphs" stroke="#03aef0" stroke-width=".7">khu vực</text>
<use href="#dot" x="931" y="2836.7"/>
<polygon points="815.4,2865.6 836.4,2844.6 1031.4,2844.6 1031.4,2937.2 1005.4,2963.2 815.4,2963.2" fill="none" stroke="#e3edf9" stroke-opacity=".9" stroke-width="1.4"/>
<polygon points="821.7,2866.1 837.2,2850.6 1025.1,2850.6 1025.1,2936.5 1004.6,2957 821.7,2957" fill="#03aef0"/>
<path d="M813.8,2925.2 V2964.4 H866.4" fill="none" stroke="#ffffff" stroke-width="1.8"/>
<text x="861.6" y="2920.3" font-size="40.5" font-family="'Liberation Sans',sans-serif" font-weight="400" fill="#ffffff" textLength="121" lengthAdjust="spacingAndGlyphs" stroke="#03aef0" stroke-width=".7">Chi nhánh</text>
<polygon points="1103,2865.6 1124,2844.6 1319,2844.6 1319,2937.2 1293,2963.2 1103,2963.2" fill="none" stroke="#e3edf9" stroke-opacity=".9" stroke-width="1.4"/>
<polygon points="1109.3,2866.1 1124.8,2850.6 1312.7,2850.6 1312.7,2936.5 1292.2,2957 1109.3,2957" fill="#6dd6fa"/>
<path d="M1101.4,2925.2 V2964.4 H1154" fill="none" stroke="#ffffff" stroke-width="1.8"/>
<text x="1115" y="2920.7" font-size="40.5" font-family="'Liberation Sans',sans-serif" font-weight="400" fill="#0b6fc8" textLength="190.8" lengthAdjust="spacingAndGlyphs" stroke="#6dd6fa" stroke-width=".7">Phòng giao dịch</text>
<use href="#dot" x="1505" y="2836.7"/>
<polygon points="1392.4,2865.6 1413.4,2844.6 1608.4,2844.6 1608.4,2937.2 1582.4,2963.2 1392.4,2963.2" fill="none" stroke="#e3edf9" stroke-opacity=".9" stroke-width="1.4"/>
<polygon points="1398.7,2866.1 1414.2,2850.6 1602.1,2850.6 1602.1,2936.5 1581.6,2957 1398.7,2957" fill="#03aef0"/>
<path d="M1390.8,2925.2 V2964.4 H1443.4" fill="none" stroke="#ffffff" stroke-width="1.8"/>
<text x="1429" y="2895" font-size="40.5" font-family="'Liberation Sans',sans-serif" font-weight="400" fill="#ffffff" textLength="142" lengthAdjust="spacingAndGlyphs" stroke="#03aef0" stroke-width=".7">Sacombank</text>
<text x="1416" y="2944.5" font-size="40.5" font-family="'Liberation Sans',sans-serif" font-weight="400" fill="#ffffff" textLength="168" lengthAdjust="spacingAndGlyphs" stroke="#03aef0" stroke-width=".7">Cambodia Plc</text>
<use href="#dot" x="1794.6" y="2836.7"/>
<polygon points="1681.5,2865.6 1702.5,2844.6 1897.5,2844.6 1897.5,2937.2 1871.5,2963.2 1681.5,2963.2" fill="none" stroke="#e3edf9" stroke-opacity=".9" stroke-width="1.4"/>
<polygon points="1687.8,2866.1 1703.3,2850.6 1891.2,2850.6 1891.2,2936.5 1870.7,2957 1687.8,2957" fill="#03aef0"/>
<path d="M1679.9,2925.2 V2964.4 H1732.5" fill="none" stroke="#ffffff" stroke-width="1.8"/>
<text x="1691.8" y="2920.7" font-size="40.5" font-family="'Liberation Sans',sans-serif" font-weight="400" fill="#ffffff" textLength="194.4" lengthAdjust="spacingAndGlyphs" stroke="#03aef0" stroke-width=".7">Sacombank Lao</text>
<use href="#dot" x="2770.4" y="2836.7"/>
<polygon points="2659.4,2865.6 2680.4,2844.6 2875.4,2844.6 2875.4,2937.2 2849.4,2963.2 2659.4,2963.2" fill="none" stroke="#e3edf9" stroke-opacity=".9" stroke-width="1.4"/>
<polygon points="2665.7,2866.1 2681.2,2850.6 2869.1,2850.6 2869.1,2936.5 2848.6,2957 2665.7,2957" fill="#03aef0"/>
<path d="M2657.8,2925.2 V2964.4 H2710.4" fill="none" stroke="#ffffff" stroke-width="1.8"/>
<text x="2685.3" y="2895" font-size="40.5" font-family="'Liberation Sans',sans-serif" font-weight="400" fill="#ffffff" textLength="162.6" lengthAdjust="spacingAndGlyphs" stroke="#03aef0" stroke-width=".7">Sacombank -</text>
<text x="2743.5" y="2945" font-size="40.5" font-family="'Liberation Sans',sans-serif" font-weight="400" fill="#ffffff" textLength="47.5" lengthAdjust="spacingAndGlyphs" stroke="#03aef0" stroke-width=".7">SBL</text>
<use href="#dot" x="3058.5" y="2836.7"/>
<polygon points="2948.5,2865.6 2969.5,2844.6 3164.5,2844.6 3164.5,2937.2 3138.5,2963.2 2948.5,2963.2" fill="none" stroke="#e3edf9" stroke-opacity=".9" stroke-width="1.4"/>
<polygon points="2954.8,2866.1 2970.3,2850.6 3158.2,2850.6 3158.2,2936.5 3137.7,2957 2954.8,2957" fill="#03aef0"/>
<path d="M2946.9,2925.2 V2964.4 H2999.5" fill="none" stroke="#ffffff" stroke-width="1.8"/>
<text x="2974.4" y="2895" font-size="40.5" font-family="'Liberation Sans',sans-serif" font-weight="400" fill="#ffffff" textLength="162.6" lengthAdjust="spacingAndGlyphs" stroke="#03aef0" stroke-width=".7">Sacombank -</text>
<text x="3032.6" y="2945" font-size="40.5" font-family="'Liberation Sans',sans-serif" font-weight="400" fill="#ffffff" textLength="47.5" lengthAdjust="spacingAndGlyphs" stroke="#03aef0" stroke-width=".7">SBA</text>
<use href="#dot" x="3348.7" y="2836.7"/>
<polygon points="3239.4,2865.6 3260.4,2844.6 3455.4,2844.6 3455.4,2937.2 3429.4,2963.2 3239.4,2963.2" fill="none" stroke="#e3edf9" stroke-opacity=".9" stroke-width="1.4"/>
<polygon points="3245.7,2866.1 3261.2,2850.6 3449.1,2850.6 3449.1,2936.5 3428.6,2957 3245.7,2957" fill="#03aef0"/>
<path d="M3237.8,2925.2 V2964.4 H3290.4" fill="none" stroke="#ffffff" stroke-width="1.8"/>
<text x="3265.3" y="2895" font-size="40.5" font-family="'Liberation Sans',sans-serif" font-weight="400" fill="#ffffff" textLength="162.6" lengthAdjust="spacingAndGlyphs" stroke="#03aef0" stroke-width=".7">Sacombank -</text>
<text x="3323.5" y="2945" font-size="40.5" font-family="'Liberation Sans',sans-serif" font-weight="400" fill="#ffffff" textLength="47.5" lengthAdjust="spacingAndGlyphs" stroke="#03aef0" stroke-width=".7">SBR</text>
<use href="#dot" x="3638.2" y="2836.7"/>
<polygon points="3528.6,2865.6 3549.6,2844.6 3744.6,2844.6 3744.6,2937.2 3718.6,2963.2 3528.6,2963.2" fill="none" stroke="#e3edf9" stroke-opacity=".9" stroke-width="1.4"/>
<polygon points="3534.9,2866.1 3550.4,2850.6 3738.3,2850.6 3738.3,2936.5 3717.8,2957 3534.9,2957" fill="#03aef0"/>
<path d="M3527,2925.2 V2964.4 H3579.6" fill="none" stroke="#ffffff" stroke-width="1.8"/>
<text x="3554.5" y="2895" font-size="40.5" font-family="'Liberation Sans',sans-serif" font-weight="400" fill="#ffffff" textLength="162.6" lengthAdjust="spacingAndGlyphs" stroke="#03aef0" stroke-width=".7">Sacombank -</text>
<text x="3612.7" y="2945" font-size="40.5" font-family="'Liberation Sans',sans-serif" font-weight="400" fill="#ffffff" textLength="47.5" lengthAdjust="spacingAndGlyphs" stroke="#03aef0" stroke-width=".7">SBJ</text>
</svg></body></html>
